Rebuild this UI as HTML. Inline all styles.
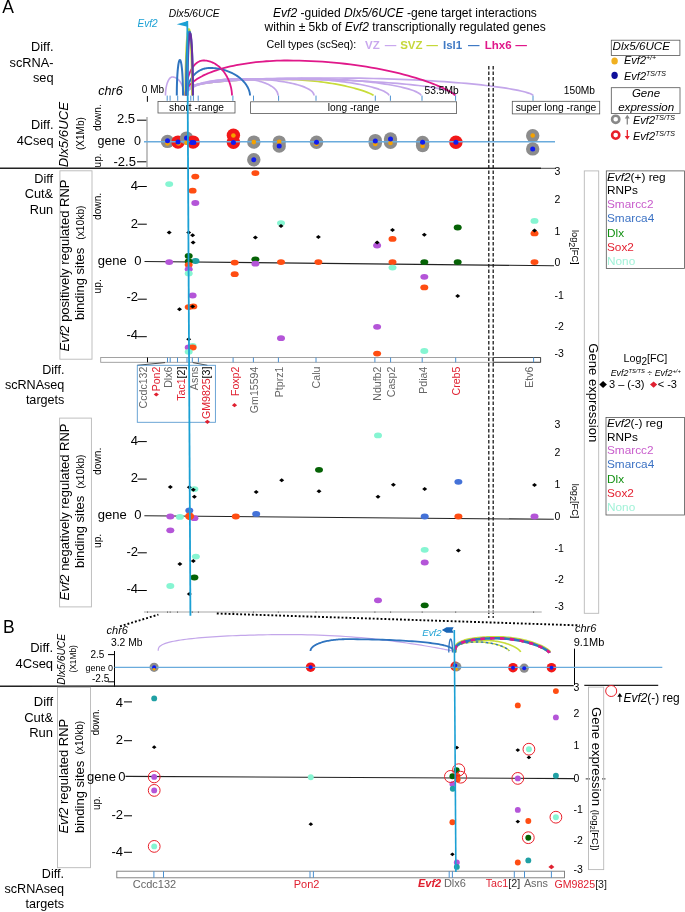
<!DOCTYPE html><html><head><meta charset="utf-8"><style>html,body{margin:0;padding:0;background:#fff;}svg{display:block;will-change:transform;}text{font-family:"Liberation Sans", sans-serif;}</style></head><body>
<svg width="685" height="912" viewBox="0 0 685 912">
<text x="2.2" y="12.8" fill="#000" style="font-size:17.5px;">A</text>
<text x="137.5" y="26.7" fill="#1ba0d4" style="font-size:10.1px;font-style:italic;">Evf2</text>
<text x="168.8" y="16.8" fill="#000" style="font-size:10.3px;font-style:italic;">Dlx5/6UCE</text>
<text x="273" y="16.6" fill="#000" style="font-size:12.05px;"><tspan font-style="italic">Evf2</tspan> -guided <tspan font-style="italic">Dlx5/6UCE</tspan> -gene target interactions</text>
<text x="264.5" y="31.2" fill="#000" style="font-size:12.05px;">within ± 5kb of <tspan font-style="italic">Evf2</tspan> transcriptionally regulated genes</text>
<text x="266.6" y="48.3" fill="#000" style="font-size:10.7px;">Cell types (scSeq):</text>
<text x="365.1" y="48.5" fill="#c9a8ee" style="font-size:11.5px;font-weight:bold;">VZ</text>
<text x="400.2" y="48.5" fill="#c5d83a" style="font-size:11.5px;font-weight:bold;">SVZ</text>
<text x="443" y="48.5" fill="#3f79c4" style="font-size:11.5px;font-weight:bold;">Isl1</text>
<text x="484.7" y="48.5" fill="#e0188a" style="font-size:11.5px;font-weight:bold;">Lhx6</text>
<line x1="384.8" y1="45.6" x2="396.3" y2="45.6" stroke="#c9a8ee" stroke-width="1.2" />
<line x1="426.4" y1="45.6" x2="437.9" y2="45.6" stroke="#c5d83a" stroke-width="1.2" />
<line x1="468" y1="45.6" x2="479.5" y2="45.6" stroke="#3f79c4" stroke-width="1.2" />
<line x1="515.4" y1="45.6" x2="526.9" y2="45.6" stroke="#e0188a" stroke-width="1.2" />
<path d="M186.00 95.50 L186.06 93.03 L186.23 91.85 L186.51 90.93 L186.91 90.13 L187.42 89.42 L188.05 88.78 L188.78 88.18 L189.63 87.63 L190.59 87.11 L191.65 86.62 L192.83 86.15 L194.11 85.71 L195.49 85.29 L196.97 84.89 L198.56 84.51 L200.25 84.15 L202.03 83.80 L203.90 83.47 L205.87 83.15 L207.93 82.85 L210.08 82.56 L212.31 82.29 L214.63 82.03 L217.02 81.78 L219.49 81.55 L222.03 81.32 L224.65 81.11 L227.33 80.91 L230.07 80.73 L232.88 80.55 L235.74 80.39 L238.65 80.24 L241.62 80.10 L244.63 79.97 L247.69 79.85 L250.78 79.75 L253.91 79.65 L257.07 79.57 L260.26 79.50 L263.47 79.44 L266.70 79.39 L269.95 79.35 L273.21 79.32 L276.48 79.31 L279.75 79.30 L283.02 79.32 L286.29 79.36 L289.55 79.44 L292.80 79.55 L296.03 79.69 L299.24 79.86 L302.43 80.06 L305.59 80.29 L308.72 80.55 L311.81 80.83 L314.87 81.15 L317.88 81.48 L320.85 81.84 L323.76 82.23 L326.62 82.63 L329.43 83.06 L332.17 83.50 L334.85 83.96 L337.47 84.43 L340.01 84.92 L342.48 85.43 L344.87 85.94 L347.19 86.46 L349.42 86.98 L351.57 87.51 L353.63 88.04 L355.60 88.58 L357.47 89.11 L359.25 89.64 L360.94 90.16 L362.53 90.67 L364.01 91.17 L365.39 91.66 L366.67 92.13 L367.85 92.59 L368.91 93.03 L369.87 93.44 L370.72 93.83 L371.45 94.19 L372.08 94.52 L372.59 94.81 L372.99 95.06 L373.27 95.27 L373.44 95.42 L373.50 95.50" fill="none" stroke="#c8dc3a" stroke-width="1.7" stroke-linejoin="round" />
<path d="M165.50 95.50 L165.50 94.85 L165.52 94.21 L165.54 93.57 L165.57 92.93 L165.60 92.29 L165.65 91.65 L165.70 91.02 L165.77 90.40 L165.84 89.78 L165.91 89.17 L166.00 88.57 L166.09 87.98 L166.19 87.39 L166.30 86.81 L166.42 86.25 L166.54 85.70 L166.67 85.15 L166.81 84.63 L166.95 84.11 L167.10 83.61 L167.26 83.12 L167.42 82.65 L167.59 82.19 L167.76 81.75 L167.95 81.33 L168.13 80.92 L168.32 80.53 L168.52 80.16 L168.72 79.81 L168.92 79.48 L169.13 79.17 L169.34 78.87 L169.56 78.60 L169.78 78.35 L170.00 78.12 L170.23 77.91 L170.46 77.72 L170.69 77.55 L170.92 77.40 L171.16 77.28 L171.39 77.18 L171.63 77.10 L171.87 77.05 L172.11 77.01 L172.34 77.00 L172.75 77.01 L173.16 77.05 L173.56 77.10 L173.97 77.18 L174.37 77.28 L174.77 77.40 L175.16 77.55 L175.56 77.72 L175.95 77.91 L176.33 78.12 L176.71 78.35 L177.09 78.60 L177.45 78.87 L177.82 79.17 L178.17 79.48 L178.52 79.81 L178.86 80.16 L179.20 80.53 L179.52 80.92 L179.84 81.33 L180.14 81.75 L180.44 82.19 L180.73 82.65 L181.01 83.12 L181.27 83.61 L181.53 84.11 L181.77 84.63 L182.01 85.15 L182.23 85.70 L182.44 86.25 L182.64 86.81 L182.82 87.39 L182.99 87.98 L183.15 88.57 L183.30 89.17 L183.43 89.78 L183.55 90.40 L183.65 91.02 L183.75 91.65 L183.82 92.29 L183.89 92.93 L183.94 93.57 L183.97 94.21 L183.99 94.85 L184.00 95.50" fill="none" stroke="#c3a6ea" stroke-width="1.6" stroke-linejoin="round" />
<path d="M186.00 95.50 L186.03 94.92 L186.13 94.34 L186.29 93.75 L186.52 93.18 L186.81 92.60 L187.17 92.03 L187.59 91.46 L188.07 90.90 L188.61 90.34 L189.22 89.79 L189.89 89.24 L190.61 88.71 L191.40 88.18 L192.25 87.66 L193.15 87.15 L194.11 86.65 L195.12 86.16 L196.19 85.68 L197.31 85.22 L198.48 84.77 L199.71 84.33 L200.98 83.90 L202.29 83.49 L203.66 83.09 L205.06 82.71 L206.51 82.34 L208.00 81.99 L209.52 81.66 L211.08 81.34 L212.68 81.04 L214.31 80.75 L215.97 80.49 L217.66 80.24 L219.37 80.02 L221.11 79.81 L222.87 79.62 L224.65 79.45 L226.45 79.30 L228.27 79.16 L230.09 79.05 L231.93 78.96 L233.78 78.89 L235.64 78.84 L237.50 78.81 L239.36 78.80 L240.71 78.81 L242.06 78.84 L243.40 78.89 L244.74 78.96 L246.07 79.05 L247.39 79.16 L248.71 79.30 L250.01 79.45 L251.30 79.62 L252.58 79.81 L253.83 80.02 L255.08 80.24 L256.30 80.49 L257.50 80.75 L258.68 81.04 L259.84 81.34 L260.97 81.66 L262.07 81.99 L263.15 82.34 L264.20 82.71 L265.22 83.09 L266.20 83.49 L267.16 83.90 L268.08 84.33 L268.96 84.77 L269.81 85.22 L270.62 85.68 L271.39 86.16 L272.13 86.65 L272.82 87.15 L273.48 87.66 L274.09 88.18 L274.66 88.71 L275.19 89.24 L275.67 89.79 L276.11 90.34 L276.50 90.90 L276.85 91.46 L277.16 92.03 L277.41 92.60 L277.62 93.18 L277.79 93.75 L277.91 94.34 L277.98 94.92 L278.00 95.50" fill="none" stroke="#c3a6ea" stroke-width="1.7" stroke-linejoin="round" />
<path d="M186.00 95.50 L186.04 94.36 L186.14 93.52 L186.32 92.76 L186.56 92.05 L186.88 91.38 L187.26 90.75 L187.71 90.13 L188.23 89.54 L188.82 88.97 L189.47 88.42 L190.19 87.89 L190.98 87.37 L191.83 86.87 L192.74 86.38 L193.72 85.91 L194.75 85.45 L195.85 85.01 L197.00 84.58 L198.21 84.17 L199.48 83.77 L200.79 83.39 L202.17 83.02 L203.59 82.67 L205.06 82.33 L206.58 82.01 L208.14 81.70 L209.74 81.40 L211.39 81.13 L213.08 80.86 L214.80 80.62 L216.56 80.38 L218.35 80.17 L220.17 79.97 L222.02 79.78 L223.90 79.61 L225.80 79.46 L227.72 79.32 L229.67 79.20 L231.62 79.09 L233.60 79.00 L235.58 78.93 L237.58 78.87 L239.58 78.83 L241.59 78.81 L243.60 78.80 L246.06 78.81 L248.51 78.84 L250.96 78.89 L253.40 78.96 L255.82 79.05 L258.24 79.16 L260.63 79.30 L263.00 79.45 L265.35 79.62 L267.68 79.81 L269.97 80.02 L272.23 80.24 L274.46 80.49 L276.65 80.75 L278.80 81.04 L280.91 81.34 L282.97 81.66 L284.98 81.99 L286.94 82.34 L288.85 82.71 L290.71 83.09 L292.50 83.49 L294.24 83.90 L295.92 84.33 L297.53 84.77 L299.08 85.22 L300.55 85.68 L301.96 86.16 L303.30 86.65 L304.57 87.15 L305.76 87.66 L306.88 88.18 L307.91 88.71 L308.87 89.24 L309.75 89.79 L310.55 90.34 L311.27 90.90 L311.91 91.46 L312.46 92.03 L312.93 92.60 L313.31 93.18 L313.61 93.75 L313.83 94.34 L313.96 94.92 L314.00 95.50" fill="none" stroke="#c3a6ea" stroke-width="1.7" stroke-linejoin="round" />
<path d="M186.00 95.50 L186.06 92.90 L186.25 91.67 L186.56 90.70 L186.99 89.87 L187.54 89.12 L188.22 88.45 L189.01 87.82 L189.93 87.24 L190.97 86.69 L192.12 86.18 L193.39 85.69 L194.78 85.23 L196.27 84.79 L197.88 84.37 L199.60 83.97 L201.42 83.59 L203.35 83.22 L205.38 82.88 L207.52 82.54 L209.75 82.23 L212.07 81.93 L214.49 81.64 L216.99 81.36 L219.58 81.10 L222.26 80.86 L225.01 80.62 L227.84 80.40 L230.74 80.19 L233.71 80.00 L236.75 79.82 L239.85 79.64 L243.01 79.49 L246.22 79.34 L249.48 79.20 L252.78 79.08 L256.13 78.97 L259.52 78.87 L262.94 78.78 L266.40 78.71 L269.87 78.65 L273.37 78.59 L276.89 78.55 L280.42 78.52 L283.96 78.51 L287.50 78.50 L291.04 78.51 L294.58 78.55 L298.11 78.61 L301.63 78.70 L305.13 78.81 L308.60 78.94 L312.06 79.10 L315.48 79.29 L318.87 79.49 L322.22 79.72 L325.52 79.97 L328.78 80.25 L331.99 80.54 L335.15 80.86 L338.25 81.20 L341.29 81.55 L344.26 81.93 L347.16 82.32 L349.99 82.73 L352.74 83.15 L355.42 83.59 L358.01 84.05 L360.51 84.52 L362.93 85.00 L365.25 85.50 L367.48 86.00 L369.62 86.52 L371.65 87.04 L373.58 87.57 L375.40 88.10 L377.12 88.64 L378.73 89.18 L380.22 89.72 L381.61 90.27 L382.88 90.81 L384.03 91.35 L385.07 91.88 L385.99 92.40 L386.78 92.92 L387.46 93.42 L388.01 93.91 L388.44 94.37 L388.75 94.80 L388.94 95.20 L389.00 95.50" fill="none" stroke="#c3a6ea" stroke-width="1.7" stroke-linejoin="round" />
<path d="M186.00 95.50 L186.07 92.90 L186.29 91.67 L186.64 90.70 L187.14 89.87 L187.79 89.12 L188.57 88.45 L189.49 87.82 L190.55 87.24 L191.75 86.69 L193.09 86.18 L194.56 85.69 L196.16 85.23 L197.89 84.79 L199.75 84.37 L201.74 83.97 L203.85 83.59 L206.09 83.22 L208.44 82.88 L210.91 82.54 L213.49 82.23 L216.18 81.93 L218.98 81.64 L221.88 81.36 L224.88 81.10 L227.97 80.86 L231.16 80.62 L234.44 80.40 L237.79 80.19 L241.23 80.00 L244.75 79.82 L248.34 79.64 L251.99 79.49 L255.71 79.34 L259.48 79.20 L263.31 79.08 L267.19 78.97 L271.11 78.87 L275.07 78.78 L279.07 78.71 L283.10 78.65 L287.15 78.59 L291.22 78.55 L295.30 78.52 L299.40 78.51 L303.50 78.50 L307.60 78.51 L311.70 78.55 L315.78 78.61 L319.85 78.70 L323.90 78.81 L327.93 78.94 L331.93 79.10 L335.89 79.29 L339.81 79.49 L343.69 79.72 L347.52 79.97 L351.29 80.25 L355.01 80.54 L358.66 80.86 L362.25 81.20 L365.77 81.55 L369.21 81.93 L372.56 82.32 L375.84 82.73 L379.03 83.15 L382.12 83.59 L385.12 84.05 L388.02 84.52 L390.82 85.00 L393.51 85.50 L396.09 86.00 L398.56 86.52 L400.91 87.04 L403.15 87.57 L405.26 88.10 L407.25 88.64 L409.11 89.18 L410.84 89.72 L412.44 90.27 L413.91 90.81 L415.25 91.35 L416.45 91.88 L417.51 92.40 L418.43 92.92 L419.21 93.42 L419.86 93.91 L420.36 94.37 L420.71 94.80 L420.93 95.20 L421.00 95.50" fill="none" stroke="#c3a6ea" stroke-width="1.7" stroke-linejoin="round" />
<path d="M186.00 95.50 L186.09 92.23 L186.36 90.88 L186.80 89.84 L187.42 88.97 L188.21 88.21 L189.18 87.52 L190.33 86.89 L191.65 86.31 L193.13 85.77 L194.79 85.27 L196.61 84.79 L198.60 84.34 L200.75 83.91 L203.06 83.51 L205.53 83.13 L208.15 82.76 L210.92 82.41 L213.83 82.08 L216.90 81.77 L220.10 81.47 L223.43 81.18 L226.90 80.91 L230.50 80.66 L234.22 80.41 L238.06 80.18 L242.01 79.97 L246.08 79.76 L250.24 79.57 L254.51 79.38 L258.87 79.21 L263.32 79.06 L267.85 78.91 L272.46 78.77 L277.14 78.65 L281.89 78.54 L286.70 78.43 L291.57 78.34 L296.48 78.26 L301.44 78.19 L306.43 78.13 L311.46 78.09 L316.51 78.05 L321.57 78.02 L326.65 78.01 L331.74 78.00 L338.76 78.01 L345.78 78.05 L352.78 78.12 L359.75 78.21 L366.69 78.33 L373.58 78.48 L380.43 78.65 L387.21 78.85 L393.93 79.07 L400.57 79.32 L407.13 79.59 L413.60 79.88 L419.97 80.20 L426.23 80.54 L432.37 80.90 L438.39 81.28 L444.28 81.68 L450.04 82.10 L455.65 82.54 L461.11 82.99 L466.41 83.46 L471.55 83.94 L476.51 84.44 L481.31 84.95 L485.91 85.47 L490.34 86.00 L494.56 86.54 L498.59 87.09 L502.42 87.64 L506.04 88.19 L509.44 88.75 L512.63 89.31 L515.60 89.87 L518.35 90.42 L520.86 90.97 L523.15 91.52 L525.20 92.05 L527.02 92.57 L528.60 93.08 L529.94 93.57 L531.04 94.04 L531.90 94.48 L532.51 94.89 L532.88 95.24 L533.00 95.50" fill="none" stroke="#c3a6ea" stroke-width="1.7" stroke-linejoin="round" />
<path d="M186.00 95.50 L186.06 92.47 L186.23 91.22 L186.52 90.26 L186.92 89.46 L187.43 88.75 L188.06 88.11 L188.80 87.53 L189.66 86.99 L190.62 86.49 L191.69 86.03 L192.87 85.58 L194.16 85.17 L195.55 84.77 L197.05 84.40 L198.64 84.04 L200.34 83.71 L202.13 83.39 L204.02 83.08 L206.00 82.79 L208.08 82.51 L210.24 82.25 L212.48 82.00 L214.81 81.76 L217.22 81.53 L219.71 81.32 L222.27 81.12 L224.90 80.93 L227.59 80.75 L230.36 80.58 L233.18 80.42 L236.06 80.28 L239.00 80.14 L241.98 80.02 L245.01 79.90 L248.09 79.80 L251.20 79.70 L254.35 79.62 L257.53 79.54 L260.74 79.48 L263.97 79.42 L267.23 79.38 L270.50 79.34 L273.78 79.32 L277.07 79.30 L280.36 79.30 L286.48 79.31 L292.58 79.34 L298.68 79.39 L304.75 79.46 L310.79 79.55 L316.79 79.65 L322.75 79.78 L328.66 79.93 L334.51 80.09 L340.30 80.28 L346.01 80.48 L351.64 80.70 L357.18 80.94 L362.63 81.20 L367.98 81.47 L373.22 81.76 L378.35 82.07 L383.36 82.39 L388.25 82.73 L393.00 83.09 L397.62 83.46 L402.09 83.85 L406.42 84.25 L410.59 84.66 L414.60 85.09 L418.45 85.53 L422.13 85.98 L425.64 86.44 L428.97 86.92 L432.12 87.40 L435.09 87.89 L437.86 88.40 L440.45 88.91 L442.84 89.43 L445.03 89.96 L447.02 90.49 L448.81 91.03 L450.39 91.58 L451.77 92.13 L452.94 92.69 L453.89 93.25 L454.64 93.81 L455.17 94.37 L455.49 94.93 L455.60 95.50" fill="none" stroke="#c3a6ea" stroke-width="1.7" stroke-linejoin="round" />
<path d="M185.00 95.50 L185.06 94.28 L185.25 93.06 L185.56 91.84 L186.00 90.63 L186.56 89.42 L187.24 88.22 L188.05 87.03 L188.97 85.85 L190.02 84.68 L191.19 83.53 L192.47 82.39 L193.87 81.26 L195.38 80.16 L197.01 79.07 L198.75 78.00 L200.59 76.95 L202.54 75.93 L204.59 74.93 L206.75 73.95 L209.00 73.00 L211.35 72.08 L213.80 71.19 L216.33 70.32 L218.95 69.49 L221.65 68.69 L224.43 67.92 L227.29 67.18 L230.23 66.48 L233.23 65.82 L236.30 65.19 L239.43 64.60 L242.62 64.04 L245.87 63.53 L249.17 63.05 L252.51 62.61 L255.89 62.21 L259.32 61.86 L262.78 61.54 L266.27 61.26 L269.78 61.03 L273.32 60.84 L276.88 60.69 L280.44 60.59 L284.02 60.52 L287.60 60.50 L293.44 60.53 L299.28 60.63 L305.10 60.80 L310.90 61.03 L316.67 61.33 L322.40 61.69 L328.10 62.11 L333.74 62.59 L339.33 63.14 L344.85 63.74 L350.31 64.39 L355.69 65.10 L360.98 65.87 L366.19 66.68 L371.30 67.53 L376.31 68.44 L381.21 69.38 L386.00 70.35 L390.66 71.36 L395.20 72.41 L399.61 73.47 L403.89 74.56 L408.02 75.67 L412.00 76.80 L415.84 77.93 L419.51 79.08 L423.03 80.22 L426.38 81.37 L429.56 82.50 L432.57 83.63 L435.41 84.74 L438.06 85.83 L440.53 86.90 L442.81 87.93 L444.90 88.94 L446.81 89.90 L448.52 90.81 L450.03 91.68 L451.34 92.48 L452.46 93.22 L453.37 93.89 L454.08 94.47 L454.59 94.95 L454.90 95.31 L455.00 95.50" fill="none" stroke="#e0188a" stroke-width="1.8" stroke-linejoin="round" />
<path d="M187.00 95.50 L187.01 94.16 L187.06 93.00 L187.12 91.90 L187.22 90.84 L187.34 89.81 L187.50 88.81 L187.67 87.83 L187.88 86.88 L188.11 85.94 L188.37 85.03 L188.65 84.14 L188.96 83.26 L189.30 82.41 L189.65 81.58 L190.04 80.76 L190.45 79.97 L190.88 79.20 L191.33 78.45 L191.81 77.73 L192.31 77.02 L192.83 76.34 L193.37 75.69 L193.93 75.06 L194.50 74.45 L195.10 73.86 L195.72 73.31 L196.35 72.78 L197.00 72.27 L197.66 71.79 L198.34 71.34 L199.03 70.91 L199.74 70.52 L200.46 70.15 L201.18 69.81 L201.92 69.50 L202.67 69.21 L203.43 68.96 L204.19 68.74 L204.96 68.54 L205.74 68.38 L206.52 68.24 L207.31 68.14 L208.10 68.06 L208.89 68.02 L209.68 68.00 L211.09 68.02 L212.49 68.07 L213.89 68.17 L215.29 68.29 L216.68 68.46 L218.06 68.66 L219.43 68.90 L220.79 69.17 L222.14 69.48 L223.47 69.82 L224.78 70.19 L226.08 70.60 L227.36 71.05 L228.61 71.52 L229.84 72.02 L231.05 72.56 L232.23 73.12 L233.38 73.72 L234.50 74.34 L235.60 74.99 L236.66 75.66 L237.69 76.36 L238.68 77.08 L239.64 77.82 L240.57 78.59 L241.45 79.37 L242.30 80.17 L243.11 80.99 L243.87 81.82 L244.60 82.67 L245.28 83.53 L245.92 84.40 L246.51 85.28 L247.06 86.16 L247.57 87.05 L248.03 87.94 L248.44 88.84 L248.80 89.73 L249.12 90.61 L249.39 91.49 L249.61 92.36 L249.78 93.21 L249.90 94.03 L249.98 94.81 L250.00 95.50" fill="none" stroke="#2f74bf" stroke-width="1.9" stroke-linejoin="round" />
<path d="M186.00 95.50 L186.01 93.79 L186.04 92.31 L186.10 90.91 L186.17 89.57 L186.27 88.26 L186.38 86.99 L186.52 85.74 L186.68 84.53 L186.86 83.34 L187.05 82.17 L187.27 81.04 L187.51 79.92 L187.77 78.84 L188.05 77.78 L188.34 76.74 L188.66 75.74 L188.99 74.76 L189.34 73.80 L189.71 72.88 L190.09 71.99 L190.49 71.12 L190.91 70.28 L191.34 69.48 L191.78 68.71 L192.24 67.96 L192.72 67.25 L193.21 66.58 L193.71 65.93 L194.22 65.33 L194.74 64.75 L195.27 64.21 L195.82 63.70 L196.37 63.24 L196.93 62.80 L197.50 62.41 L198.08 62.05 L198.66 61.72 L199.25 61.44 L199.85 61.19 L200.44 60.98 L201.05 60.81 L201.65 60.67 L202.26 60.58 L202.87 60.52 L203.48 60.50 L204.48 60.52 L205.47 60.59 L206.46 60.71 L207.45 60.87 L208.43 61.08 L209.41 61.34 L210.38 61.64 L211.34 61.99 L212.29 62.38 L213.23 62.81 L214.16 63.29 L215.08 63.81 L215.98 64.38 L216.87 64.98 L217.74 65.62 L218.59 66.30 L219.43 67.02 L220.24 67.78 L221.04 68.57 L221.81 69.39 L222.56 70.25 L223.29 71.14 L224.00 72.06 L224.67 73.00 L225.33 73.98 L225.95 74.97 L226.55 75.99 L227.12 77.03 L227.67 78.09 L228.18 79.17 L228.66 80.27 L229.11 81.37 L229.53 82.49 L229.92 83.61 L230.28 84.75 L230.60 85.88 L230.90 87.02 L231.15 88.15 L231.38 89.28 L231.57 90.40 L231.72 91.50 L231.84 92.58 L231.93 93.63 L231.98 94.63 L232.00 95.50" fill="none" stroke="#e0188a" stroke-width="1.8" stroke-linejoin="round" />
<path d="M176.80 95.50 L176.80 94.26 L176.81 93.02 L176.82 91.79 L176.83 90.56 L176.85 89.34 L176.87 88.12 L176.89 86.91 L176.92 85.71 L176.95 84.53 L176.99 83.36 L177.03 82.20 L177.07 81.06 L177.11 79.94 L177.16 78.83 L177.22 77.75 L177.27 76.69 L177.33 75.65 L177.39 74.63 L177.46 73.64 L177.53 72.68 L177.60 71.75 L177.67 70.84 L177.75 69.96 L177.83 69.12 L177.91 68.31 L177.99 67.53 L178.08 66.78 L178.17 66.07 L178.26 65.39 L178.35 64.76 L178.44 64.16 L178.54 63.59 L178.64 63.07 L178.74 62.58 L178.84 62.14 L178.94 61.74 L179.05 61.38 L179.15 61.05 L179.26 60.78 L179.36 60.54 L179.47 60.35 L179.58 60.19 L179.68 60.09 L179.79 60.02 L179.90 60.00 L180.01 60.02 L180.12 60.09 L180.22 60.19 L180.33 60.35 L180.44 60.54 L180.54 60.78 L180.65 61.05 L180.75 61.38 L180.86 61.74 L180.96 62.14 L181.06 62.58 L181.16 63.07 L181.26 63.59 L181.36 64.16 L181.45 64.76 L181.54 65.39 L181.63 66.07 L181.72 66.78 L181.81 67.53 L181.89 68.31 L181.97 69.12 L182.05 69.96 L182.13 70.84 L182.20 71.75 L182.27 72.68 L182.34 73.64 L182.41 74.63 L182.47 75.65 L182.53 76.69 L182.58 77.75 L182.64 78.83 L182.69 79.94 L182.73 81.06 L182.77 82.20 L182.81 83.36 L182.85 84.53 L182.88 85.71 L182.91 86.91 L182.93 88.12 L182.95 89.34 L182.97 90.56 L182.98 91.79 L182.99 93.02 L183.00 94.26 L183.00 95.50" fill="none" stroke="#2f74bf" stroke-width="2" stroke-linejoin="round" />
<path d="M185.50 95.50 L185.50 93.19 L185.51 90.88 L185.52 88.58 L185.53 86.29 L185.55 84.00 L185.57 81.74 L185.60 79.48 L185.63 77.25 L185.66 75.04 L185.70 72.86 L185.74 70.70 L185.79 68.57 L185.84 66.48 L185.89 64.42 L185.95 62.40 L186.01 60.42 L186.07 58.48 L186.14 56.59 L186.21 54.74 L186.28 52.95 L186.36 51.20 L186.44 49.51 L186.52 47.88 L186.61 46.30 L186.70 44.79 L186.79 43.33 L186.88 41.94 L186.98 40.62 L187.07 39.36 L187.17 38.17 L187.28 37.05 L187.38 36.00 L187.49 35.02 L187.60 34.12 L187.70 33.29 L187.81 32.54 L187.93 31.86 L188.04 31.27 L188.15 30.75 L188.27 30.31 L188.38 29.94 L188.50 29.66 L188.62 29.46 L188.73 29.34 L188.85 29.30 L188.97 29.34 L189.08 29.46 L189.20 29.66 L189.32 29.94 L189.43 30.31 L189.55 30.75 L189.66 31.27 L189.77 31.86 L189.89 32.54 L190.00 33.29 L190.10 34.12 L190.21 35.02 L190.32 36.00 L190.42 37.05 L190.52 38.17 L190.63 39.36 L190.72 40.62 L190.82 41.94 L190.91 43.33 L191.00 44.79 L191.09 46.30 L191.18 47.88 L191.26 49.51 L191.34 51.20 L191.42 52.95 L191.49 54.74 L191.56 56.59 L191.63 58.48 L191.69 60.42 L191.75 62.40 L191.81 64.42 L191.86 66.48 L191.91 68.57 L191.96 70.70 L192.00 72.86 L192.04 75.04 L192.07 77.25 L192.10 79.48 L192.13 81.74 L192.15 84.00 L192.17 86.29 L192.18 88.58 L192.19 90.88 L192.20 93.19 L192.20 95.50" fill="none" stroke="#c8dc3a" stroke-width="2.2" stroke-linejoin="round" />
<path d="M186.00 95.50 L186.00 93.27 L186.01 91.04 L186.02 88.82 L186.03 86.61 L186.05 84.40 L186.08 82.21 L186.10 80.04 L186.14 77.89 L186.17 75.75 L186.21 73.64 L186.25 71.56 L186.30 69.51 L186.35 67.49 L186.41 65.50 L186.47 63.55 L186.53 61.64 L186.60 59.77 L186.67 57.94 L186.74 56.16 L186.82 54.43 L186.90 52.74 L186.98 51.11 L187.07 49.53 L187.16 48.01 L187.25 46.55 L187.35 45.15 L187.44 43.80 L187.54 42.52 L187.65 41.31 L187.75 40.16 L187.86 39.08 L187.97 38.07 L188.08 37.12 L188.19 36.25 L188.30 35.45 L188.42 34.73 L188.54 34.08 L188.65 33.50 L188.77 33.00 L188.89 32.57 L189.01 32.22 L189.13 31.95 L189.26 31.76 L189.38 31.64 L189.50 31.60 L189.62 31.64 L189.74 31.76 L189.87 31.95 L189.99 32.22 L190.11 32.57 L190.23 33.00 L190.35 33.50 L190.46 34.08 L190.58 34.73 L190.70 35.45 L190.81 36.25 L190.92 37.12 L191.03 38.07 L191.14 39.08 L191.25 40.16 L191.35 41.31 L191.46 42.52 L191.56 43.80 L191.65 45.15 L191.75 46.55 L191.84 48.01 L191.93 49.53 L192.02 51.11 L192.10 52.74 L192.18 54.43 L192.26 56.16 L192.33 57.94 L192.40 59.77 L192.47 61.64 L192.53 63.55 L192.59 65.50 L192.65 67.49 L192.70 69.51 L192.75 71.56 L192.79 73.64 L192.83 75.75 L192.86 77.89 L192.90 80.04 L192.92 82.21 L192.95 84.40 L192.97 86.61 L192.98 88.82 L192.99 91.04 L193.00 93.27 L193.00 95.50" fill="none" stroke="#2f74bf" stroke-width="2" stroke-linejoin="round" />
<path d="M187.50 95.50 L187.50 93.33 L187.51 91.17 L187.51 89.01 L187.53 86.86 L187.54 84.72 L187.56 82.59 L187.58 80.48 L187.60 78.38 L187.63 76.31 L187.66 74.26 L187.69 72.24 L187.73 70.24 L187.77 68.28 L187.81 66.35 L187.86 64.45 L187.90 62.59 L187.95 60.77 L188.01 59.00 L188.06 57.27 L188.12 55.58 L188.18 53.95 L188.24 52.36 L188.31 50.83 L188.38 49.35 L188.45 47.93 L188.52 46.56 L188.59 45.26 L188.67 44.02 L188.75 42.84 L188.82 41.72 L188.91 40.67 L188.99 39.68 L189.07 38.77 L189.16 37.92 L189.24 37.15 L189.33 36.44 L189.42 35.81 L189.51 35.24 L189.60 34.76 L189.69 34.34 L189.78 34.00 L189.87 33.74 L189.97 33.55 L190.06 33.44 L190.15 33.40 L190.24 33.44 L190.33 33.55 L190.43 33.74 L190.52 34.00 L190.61 34.34 L190.70 34.76 L190.79 35.24 L190.88 35.81 L190.97 36.44 L191.06 37.15 L191.14 37.92 L191.23 38.77 L191.31 39.68 L191.39 40.67 L191.47 41.72 L191.55 42.84 L191.63 44.02 L191.71 45.26 L191.78 46.56 L191.85 47.93 L191.92 49.35 L191.99 50.83 L192.06 52.36 L192.12 53.95 L192.18 55.58 L192.24 57.27 L192.29 59.00 L192.35 60.77 L192.40 62.59 L192.44 64.45 L192.49 66.35 L192.53 68.28 L192.57 70.24 L192.61 72.24 L192.64 74.26 L192.67 76.31 L192.70 78.38 L192.72 80.48 L192.74 82.59 L192.76 84.72 L192.77 86.86 L192.79 89.01 L192.79 91.17 L192.80 93.33 L192.80 95.50" fill="none" stroke="#6a2fa0" stroke-width="2" stroke-linejoin="round" />
<text x="53.5" y="51" fill="#000" style="font-size:12.75px;" text-anchor="end">Diff.</text>
<text x="53.5" y="66.8" fill="#000" style="font-size:12.75px;" text-anchor="end">scRNA-</text>
<text x="53.5" y="81.7" fill="#000" style="font-size:12.75px;" text-anchor="end">seq</text>
<text x="98.2" y="95.2" fill="#000" style="font-size:12.6px;font-style:italic;">chr6</text>
<text x="141.8" y="93" fill="#000" style="font-size:10px;">0 Mb</text>
<text x="424.6" y="93.8" fill="#000" style="font-size:10.2px;">53.5Mb</text>
<text x="563.8" y="94.4" fill="#000" style="font-size:10.2px;">150Mb</text>
<line x1="147.4" y1="96" x2="147.4" y2="101.8" stroke="#000" stroke-width="1" />
<line x1="167.2" y1="95.6" x2="167.2" y2="100.8" stroke="#4a90d0" stroke-width="1" />
<line x1="170.1" y1="95.6" x2="170.1" y2="100.8" stroke="#4a90d0" stroke-width="1" />
<line x1="177.7" y1="95.6" x2="177.7" y2="100.8" stroke="#4a90d0" stroke-width="1" />
<line x1="190.8" y1="95.6" x2="190.8" y2="100.8" stroke="#4a90d0" stroke-width="1" />
<line x1="193.4" y1="95.6" x2="193.4" y2="100.8" stroke="#4a90d0" stroke-width="1" />
<line x1="198.2" y1="95.6" x2="198.2" y2="100.8" stroke="#4a90d0" stroke-width="1" />
<line x1="232.9" y1="95.6" x2="232.9" y2="100.8" stroke="#4a90d0" stroke-width="1" />
<line x1="253.5" y1="95.6" x2="253.5" y2="100.8" stroke="#4a90d0" stroke-width="1" />
<line x1="278.6" y1="95.6" x2="278.6" y2="100.8" stroke="#4a90d0" stroke-width="1" />
<line x1="316" y1="95.6" x2="316" y2="100.8" stroke="#4a90d0" stroke-width="1" />
<line x1="375.3" y1="95.6" x2="375.3" y2="100.8" stroke="#4a90d0" stroke-width="1" />
<line x1="390.4" y1="95.6" x2="390.4" y2="100.8" stroke="#4a90d0" stroke-width="1" />
<line x1="422" y1="95.6" x2="422" y2="100.8" stroke="#4a90d0" stroke-width="1" />
<line x1="455.6" y1="95.6" x2="455.6" y2="100.8" stroke="#4a90d0" stroke-width="1" />
<line x1="533" y1="95.6" x2="533" y2="100.8" stroke="#4a90d0" stroke-width="1" />
<rect x="158" y="101.5" width="77" height="11.5" stroke="#555" stroke-width="0.8" fill="#fff"/>
<text x="196.5" y="110.8" fill="#000" style="font-size:10.2px;" text-anchor="middle">short -range</text>
<rect x="250.6" y="101.8" width="206" height="11.6" stroke="#555" stroke-width="0.8" fill="#fff"/>
<text x="353.6" y="111" fill="#000" style="font-size:10.2px;" text-anchor="middle">long -range</text>
<rect x="512.3" y="101.3" width="87.4" height="12.6" stroke="#555" stroke-width="0.8" fill="#fff"/>
<text x="556" y="111" fill="#000" style="font-size:10.3px;" text-anchor="middle">super long -range</text>
<line x1="488.8" y1="66.1" x2="488.8" y2="618" stroke="#1a1a1a" stroke-width="1.3" stroke-dasharray="3.3 2.2"/>
<line x1="493.2" y1="66.1" x2="493.2" y2="618" stroke="#1a1a1a" stroke-width="1.3" stroke-dasharray="3.3 2.2"/>
<text x="53.5" y="129.3" fill="#000" style="font-size:12.75px;" text-anchor="end">Diff.</text>
<text x="53.5" y="144.7" fill="#000" style="font-size:12.75px;" text-anchor="end">4Cseq</text>
<text transform="translate(67.6 167.2) rotate(-90)" fill="#000" style="font-size:13.2px;font-style:italic;">Dlx5/6UCE</text>
<text transform="translate(83.5 150) rotate(-90)" fill="#000" style="font-size:10px;">(X1Mb)</text>
<text transform="translate(101 131) rotate(-90)" fill="#000" style="font-size:10px;">down.</text>
<text transform="translate(101 167.4) rotate(-90)" fill="#000" style="font-size:10px;">up.</text>
<text x="97.5" y="145" fill="#000" style="font-size:12.5px;">gene</text>
<text x="134" y="145" fill="#000" style="font-size:12.5px;">0</text>
<text x="117" y="122.8" fill="#000" style="font-size:13px;">2.5</text>
<text x="113.5" y="166.2" fill="#000" style="font-size:13px;">-2.5</text>
<line x1="137" y1="120.2" x2="146.7" y2="120.2" stroke="#000" stroke-width="1" />
<line x1="137" y1="161.8" x2="146.7" y2="161.8" stroke="#000" stroke-width="1" />
<line x1="147" y1="117" x2="147" y2="167" stroke="#999" stroke-width="1.2" />
<line x1="0" y1="168.2" x2="541" y2="168.2" stroke="#222" stroke-width="1.4" />
<line x1="541" y1="168.3" x2="556" y2="168.3" stroke="#333" stroke-width="0.9" />
<circle cx="167.5" cy="141.4" r="6.7" fill="#8c8c8c"/>
<circle cx="178" cy="142.1" r="6.7" fill="#f21818"/>
<circle cx="186.5" cy="138.1" r="6.7" fill="#8c8c8c"/>
<circle cx="193.1" cy="142.1" r="6.7" fill="#f21818"/>
<circle cx="233.4" cy="135.2" r="6.7" fill="#f21818"/>
<circle cx="233.4" cy="142.3" r="6.7" fill="#f21818"/>
<circle cx="253.8" cy="142.1" r="6.7" fill="#8c8c8c"/>
<circle cx="253.8" cy="159.8" r="6.7" fill="#8c8c8c"/>
<circle cx="279.2" cy="142.1" r="6.7" fill="#8c8c8c"/>
<circle cx="279.2" cy="146" r="6.7" fill="#8c8c8c"/>
<circle cx="316.5" cy="142.3" r="6.7" fill="#8c8c8c"/>
<circle cx="375.3" cy="140.6" r="6.7" fill="#8c8c8c"/>
<circle cx="375.3" cy="143.2" r="6.7" fill="#8c8c8c"/>
<circle cx="390.5" cy="139" r="6.7" fill="#8c8c8c"/>
<circle cx="390.5" cy="142.2" r="6.7" fill="#8c8c8c"/>
<circle cx="422.6" cy="142.4" r="6.7" fill="#8c8c8c"/>
<circle cx="422.6" cy="145.6" r="6.7" fill="#8c8c8c"/>
<circle cx="455.9" cy="142.2" r="6.7" fill="#f21818"/>
<circle cx="532.7" cy="135.7" r="6.7" fill="#8c8c8c"/>
<circle cx="532.7" cy="148.9" r="6.7" fill="#8c8c8c"/>
<line x1="144" y1="141.8" x2="555" y2="141.8" stroke="#6aabdc" stroke-width="1.4" />
<circle cx="167.5" cy="143.4" r="2.3" fill="#f5a200"/>
<circle cx="178.5" cy="143.5" r="2.3" fill="#f5a200"/>
<circle cx="186.5" cy="142.7" r="2.3" fill="#f5a200"/>
<circle cx="233.4" cy="135.5" r="2.3" fill="#f5a200"/>
<circle cx="253.8" cy="142.1" r="2.3" fill="#f5a200"/>
<circle cx="279.2" cy="141.8" r="2.3" fill="#f5a200"/>
<circle cx="316.5" cy="144" r="2.3" fill="#f5a200"/>
<circle cx="375.3" cy="144" r="2.3" fill="#f5a200"/>
<circle cx="390.5" cy="143" r="2.3" fill="#f5a200"/>
<circle cx="422.6" cy="145.9" r="2.3" fill="#f5a200"/>
<circle cx="532.7" cy="135.5" r="2.3" fill="#f5a200"/>
<circle cx="167.5" cy="140.8" r="2.5" fill="#0f1cf0"/>
<circle cx="178" cy="142.1" r="2.5" fill="#0f1cf0"/>
<circle cx="186.5" cy="138.1" r="2.5" fill="#0f1cf0"/>
<circle cx="191.8" cy="142.5" r="2.5" fill="#0f1cf0"/>
<circle cx="193.8" cy="142.5" r="2.5" fill="#0f1cf0"/>
<circle cx="233.4" cy="142.5" r="2.5" fill="#0f1cf0"/>
<circle cx="253.8" cy="159.8" r="2.5" fill="#0f1cf0"/>
<circle cx="279.2" cy="146" r="2.5" fill="#0f1cf0"/>
<circle cx="316.5" cy="142.3" r="2.5" fill="#0f1cf0"/>
<circle cx="375.3" cy="141.1" r="2.5" fill="#0f1cf0"/>
<circle cx="390.5" cy="139.1" r="2.5" fill="#0f1cf0"/>
<circle cx="422.6" cy="142.2" r="2.5" fill="#0f1cf0"/>
<circle cx="455.9" cy="142.2" r="2.5" fill="#0f1cf0"/>
<circle cx="532.7" cy="148.9" r="2.5" fill="#0f1cf0"/>
<path d="M176.7 24.2 L188 21 L187.5 26.8 Z" fill="#1ba0d4"/>
<rect x="611.3" y="40.2" width="68.6" height="15.3" stroke="#555" stroke-width="0.8" fill="none"/>
<text x="612.6" y="49.8" fill="#000" style="font-size:11.6px;font-style:italic;">Dlx5/6UCE</text>
<ellipse cx="614.6" cy="61" rx="3.2" ry="3.6" fill="#f0b020"/>
<text x="624" y="63.6" fill="#000" style="font-size:11px;font-style:italic;">Evf2<tspan font-size="7" dy="-4">+/+</tspan></text>
<ellipse cx="614.6" cy="75.3" rx="3.2" ry="3.6" fill="#10109a"/>
<text x="624" y="80.4" fill="#000" style="font-size:11px;font-style:italic;">Evf2<tspan font-size="7" dy="-4">TS/TS</tspan></text>
<rect x="611.3" y="87.7" width="68.7" height="25.8" stroke="#555" stroke-width="0.8" fill="none"/>
<text x="646" y="97.3" fill="#000" style="font-size:11.5px;font-style:italic;" text-anchor="middle">Gene</text>
<text x="646.2" y="110.6" fill="#000" style="font-size:11.6px;font-style:italic;" text-anchor="middle">expression</text>
<circle cx="615.7" cy="119.3" r="3.6" fill="none" stroke="#888" stroke-width="2.6"/>
<line x1="627.3" y1="117" x2="627.3" y2="124.5" stroke="#888" stroke-width="1.3" />
<path d="M624.8 118.5L627.3 114.8L629.8 118.5Z" fill="#888"/>
<text x="633" y="123.5" fill="#000" style="font-size:11px;font-style:italic;">Evf2<tspan font-size="7" dy="-4">TS/TS</tspan></text>
<circle cx="615.7" cy="135.1" r="3.6" fill="none" stroke="#e8202a" stroke-width="2.6"/>
<line x1="627.3" y1="130" x2="627.3" y2="137.5" stroke="#e8202a" stroke-width="1.3" />
<path d="M624.8 136L627.3 139.7L629.8 136Z" fill="#e8202a"/>
<text x="633" y="139.5" fill="#000" style="font-size:11px;font-style:italic;">Evf2<tspan font-size="7" dy="-4">TS/TS</tspan></text>
<text x="53.1" y="182.6" fill="#000" style="font-size:12.75px;" text-anchor="end">Diff</text>
<text x="53.1" y="198.2" fill="#000" style="font-size:12.75px;" text-anchor="end">Cut&amp;</text>
<text x="53.1" y="213.6" fill="#000" style="font-size:12.75px;" text-anchor="end">Run</text>
<rect x="59.9" y="170.8" width="32.1" height="188.4" stroke="#b8b8b8" stroke-width="0.9" fill="none"/>
<text transform="translate(69.2 351.5) rotate(-90)" fill="#000" style="font-size:13px;"><tspan font-style="italic">Evf2</tspan> positively regulated RNP</text>
<text transform="translate(84.2 320) rotate(-90)" fill="#000" style="font-size:13px;">binding sites</text>
<text transform="translate(84 239.8) rotate(-90)" fill="#000" style="font-size:10.3px;">(x10kb)</text>
<text transform="translate(100.7 220) rotate(-90)" fill="#000" style="font-size:10.2px;">down.</text>
<text transform="translate(100.5 293.4) rotate(-90)" fill="#000" style="font-size:10.2px;">up.</text>
<text x="138" y="190.3" fill="#000" style="font-size:13px;" text-anchor="end">4</text>
<line x1="137.5" y1="186.5" x2="146.8" y2="186.5" stroke="#000" stroke-width="1" />
<text x="138" y="228.3" fill="#000" style="font-size:13px;" text-anchor="end">2</text>
<line x1="137.5" y1="224.20000000000002" x2="146.8" y2="224.20000000000002" stroke="#000" stroke-width="1" />
<text x="138" y="301.3" fill="#000" style="font-size:13px;" text-anchor="end">-2</text>
<line x1="137.5" y1="299.2" x2="146.8" y2="299.2" stroke="#000" stroke-width="1" />
<text x="138" y="339.2" fill="#000" style="font-size:13px;" text-anchor="end">-4</text>
<line x1="137.5" y1="336.7" x2="146.8" y2="336.7" stroke="#000" stroke-width="1" />
<text x="97.8" y="265" fill="#000" style="font-size:13px;">gene</text>
<text x="134.3" y="265" fill="#000" style="font-size:13px;">0</text>
<line x1="144.5" y1="261.5" x2="554" y2="265.8" stroke="#222" stroke-width="1.1" />
<rect x="100.7" y="357.5" width="439.9" height="4.8" stroke="#999" stroke-width="0.9" fill="none"/>
<path d="M493.2 357.5H540.6V362.3H493.2Z" fill="none" stroke="#444" stroke-width="0.9"/>
<line x1="147.5" y1="357.5" x2="147.5" y2="362.3" stroke="#000" stroke-width="1" />
<line x1="167.5" y1="357.5" x2="167.5" y2="362.3" stroke="#4a90d0" stroke-width="1" />
<line x1="170.2" y1="357.5" x2="170.2" y2="362.3" stroke="#4a90d0" stroke-width="1" />
<line x1="177.5" y1="357.5" x2="177.5" y2="362.3" stroke="#4a90d0" stroke-width="1" />
<line x1="187" y1="357.5" x2="187" y2="362.3" stroke="#4a90d0" stroke-width="1" />
<line x1="192.3" y1="357.5" x2="192.3" y2="362.3" stroke="#4a90d0" stroke-width="1" />
<line x1="198.4" y1="357.5" x2="198.4" y2="362.3" stroke="#4a90d0" stroke-width="1" />
<line x1="233.1" y1="357.5" x2="233.1" y2="362.3" stroke="#4a90d0" stroke-width="1" />
<line x1="253.4" y1="357.5" x2="253.4" y2="362.3" stroke="#4a90d0" stroke-width="1" />
<line x1="278.4" y1="357.5" x2="278.4" y2="362.3" stroke="#4a90d0" stroke-width="1" />
<line x1="316" y1="357.5" x2="316" y2="362.3" stroke="#4a90d0" stroke-width="1" />
<line x1="374.9" y1="357.5" x2="374.9" y2="362.3" stroke="#4a90d0" stroke-width="1" />
<line x1="390.6" y1="357.5" x2="390.6" y2="362.3" stroke="#4a90d0" stroke-width="1" />
<line x1="422.2" y1="357.5" x2="422.2" y2="362.3" stroke="#4a90d0" stroke-width="1" />
<line x1="455.7" y1="357.5" x2="455.7" y2="362.3" stroke="#4a90d0" stroke-width="1" />
<line x1="533.6" y1="357.5" x2="533.6" y2="362.3" stroke="#4a90d0" stroke-width="1" />
<text x="554.5" y="174.9" fill="#000" style="font-size:10.5px;">3</text>
<text x="554.5" y="202.7" fill="#000" style="font-size:10.5px;">2</text>
<text x="554.5" y="234.7" fill="#000" style="font-size:10.5px;">1</text>
<text x="554.5" y="266.3" fill="#000" style="font-size:10.5px;">0</text>
<text x="554.5" y="298.8" fill="#000" style="font-size:10.5px;">-1</text>
<text x="554.5" y="329.9" fill="#000" style="font-size:10.5px;">-2</text>
<text x="554.5" y="356.9" fill="#000" style="font-size:10.5px;">-3</text>
<text transform="translate(571.5 230) rotate(90)" fill="#000" style="font-size:9.2px;">log<tspan font-size="9" dy="2.5">2</tspan><tspan dy="-2.5">[FC]</tspan></text>
<ellipse cx="195.3" cy="176.6" rx="4" ry="2.9" fill="#ff4d12"/>
<ellipse cx="255.4" cy="173.1" rx="4" ry="2.9" fill="#ff4d12"/>
<ellipse cx="169.2" cy="184.1" rx="4" ry="2.9" fill="#86f5d2"/>
<ellipse cx="192.6" cy="190.7" rx="4" ry="2.9" fill="#ff4d12"/>
<ellipse cx="195.3" cy="203" rx="4" ry="2.9" fill="#b455d8"/>
<ellipse cx="281" cy="223.1" rx="4" ry="2.9" fill="#86f5d2"/>
<ellipse cx="255.4" cy="259.3" rx="4" ry="2.9" fill="#056205"/>
<ellipse cx="188.7" cy="256" rx="4" ry="2.9" fill="#056205"/>
<ellipse cx="169.2" cy="262.1" rx="4" ry="2.9" fill="#b455d8"/>
<ellipse cx="195.5" cy="261" rx="4" ry="2.9" fill="#20a0a4"/>
<ellipse cx="188.7" cy="261.5" rx="4" ry="2.9" fill="#056205"/>
<ellipse cx="188.7" cy="264.8" rx="4" ry="2.9" fill="#ff4d12"/>
<ellipse cx="188.7" cy="269.2" rx="4" ry="2.9" fill="#b455d8"/>
<ellipse cx="188.7" cy="273.5" rx="4" ry="2.9" fill="#86f5d2"/>
<ellipse cx="234.7" cy="262.6" rx="4" ry="2.9" fill="#ff4d12"/>
<ellipse cx="234.7" cy="274.2" rx="4" ry="2.9" fill="#ff4d12"/>
<ellipse cx="255.4" cy="263.7" rx="4" ry="2.9" fill="#b455d8"/>
<ellipse cx="281" cy="262.1" rx="4" ry="2.9" fill="#ff4d12"/>
<ellipse cx="192.6" cy="295.5" rx="4" ry="2.9" fill="#b455d8"/>
<ellipse cx="188.7" cy="307.1" rx="4" ry="2.9" fill="#ff4d12"/>
<ellipse cx="193.3" cy="306.4" rx="4" ry="2.9" fill="#ff4d12"/>
<ellipse cx="281" cy="338.2" rx="4" ry="2.9" fill="#b455d8"/>
<ellipse cx="192.6" cy="345.9" rx="4" ry="2.9" fill="#86f5d2"/>
<ellipse cx="188.7" cy="347.5" rx="4" ry="2.9" fill="#b455d8"/>
<ellipse cx="192.6" cy="347.5" rx="4" ry="2.9" fill="#ff4d12"/>
<ellipse cx="188.7" cy="351.8" rx="4" ry="2.9" fill="#86f5d2"/>
<ellipse cx="318.4" cy="262.1" rx="4" ry="2.9" fill="#ff4d12"/>
<ellipse cx="377.1" cy="245.5" rx="4" ry="2.9" fill="#b455d8"/>
<ellipse cx="377.1" cy="326.8" rx="4" ry="2.9" fill="#b455d8"/>
<ellipse cx="377.1" cy="353.6" rx="4" ry="2.9" fill="#ff4d12"/>
<ellipse cx="392.5" cy="238.9" rx="4" ry="2.9" fill="#ff4d12"/>
<ellipse cx="392.5" cy="262.1" rx="4" ry="2.9" fill="#ff4d12"/>
<ellipse cx="392.5" cy="267.6" rx="4" ry="2.9" fill="#86f5d2"/>
<ellipse cx="424.3" cy="262.1" rx="4" ry="2.9" fill="#056205"/>
<ellipse cx="424.3" cy="276.8" rx="4" ry="2.9" fill="#b455d8"/>
<ellipse cx="424.3" cy="287.4" rx="4" ry="2.9" fill="#ff4d12"/>
<ellipse cx="424.3" cy="351" rx="4" ry="2.9" fill="#86f5d2"/>
<ellipse cx="457.7" cy="227.5" rx="4" ry="2.9" fill="#056205"/>
<ellipse cx="457.7" cy="262.1" rx="4" ry="2.9" fill="#056205"/>
<ellipse cx="534.5" cy="220.9" rx="4" ry="2.9" fill="#86f5d2"/>
<ellipse cx="534.5" cy="233.4" rx="4" ry="2.9" fill="#ff4d12"/>
<ellipse cx="534.5" cy="262.1" rx="4" ry="2.9" fill="#ff4d12"/>
<path d="M278.5 226L281 224.0L283.5 226L281 228.0Z" fill="#000"/>
<path d="M166.7 232.5L169.2 230.5L171.7 232.5L169.2 234.5Z" fill="#000"/>
<path d="M186.2 232.5L188.7 230.5L191.2 232.5L188.7 234.5Z" fill="#000"/>
<path d="M190.1 235.2L192.6 233.2L195.1 235.2L192.6 237.2Z" fill="#000"/>
<path d="M190.6 242.4L193.1 240.4L195.6 242.4L193.1 244.4Z" fill="#000"/>
<path d="M252.9 237.6L255.4 235.6L257.9 237.6L255.4 239.6Z" fill="#000"/>
<path d="M190.1 306.4L192.6 304.4L195.1 306.4L192.6 308.4Z" fill="#000"/>
<path d="M177.0 309.3L179.5 307.3L182.0 309.3L179.5 311.3Z" fill="#000"/>
<path d="M186.2 339.3L188.7 337.3L191.2 339.3L188.7 341.3Z" fill="#000"/>
<path d="M315.9 236.9L318.4 234.9L320.9 236.9L318.4 238.9Z" fill="#000"/>
<path d="M374.6 242.4L377.1 240.4L379.6 242.4L377.1 244.4Z" fill="#000"/>
<path d="M390.0 230.1L392.5 228.1L395.0 230.1L392.5 232.1Z" fill="#000"/>
<path d="M421.8 234.7L424.3 232.7L426.8 234.7L424.3 236.7Z" fill="#000"/>
<path d="M455.2 295.9L457.7 293.9L460.2 295.9L457.7 297.9Z" fill="#000"/>
<path d="M532.0 230.4L534.5 228.4L537.0 230.4L534.5 232.4Z" fill="#000"/>
<rect x="584.3" y="170.9" width="14.4" height="442.4" stroke="#b8b8b8" stroke-width="0.9" fill="none"/>
<rect x="606.3" y="170.9" width="78.3" height="97.7" stroke="#555" stroke-width="0.8" fill="none"/>
<text x="607" y="180.5" fill="#000" style="font-size:11.8px;"><tspan font-style="italic">Evf2</tspan>(+) reg</text>
<text x="607" y="194.3" fill="#000" style="font-size:11.8px;">RNPs</text>
<text x="607" y="208.3" fill="#c85ccc" style="font-size:11.8px;">Smarcc2</text>
<text x="607" y="222.3" fill="#3c72c4" style="font-size:11.8px;">Smarca4</text>
<text x="607" y="236.7" fill="#119011" style="font-size:11.8px;">Dlx</text>
<text x="607" y="250.5" fill="#e42232" style="font-size:11.8px;">Sox2</text>
<text x="607" y="265" fill="#a2f2d8" style="font-size:11.8px;">Nono</text>
<text x="623.4" y="362" fill="#000" style="font-size:10.8px;">Log<tspan font-size="10" dy="2.6">2</tspan><tspan dy="-2.6">[FC]</tspan></text>
<text x="610.7" y="375.5" fill="#000" style="font-size:8.9px;font-style:italic;">Evf2<tspan font-size="5.8" dy="-2.8">TS/TS</tspan><tspan dy="2.8"> ÷ </tspan>Evf2<tspan font-size="5.8" dy="-2.8">+/+</tspan></text>
<path d="M599.3 384.6L603.1 381.1L606.9 384.6L603.1 388.1Z" fill="#000"/>
<text x="609" y="388" fill="#000" style="font-size:11px;">3 – (-3)</text>
<path d="M650 384.6L653.6 381.4L657.2 384.6L653.6 387.8Z" fill="#e02030"/>
<text x="657.7" y="388" fill="#000" style="font-size:11px;">&lt; -3</text>
<text transform="translate(588.8 343.3) rotate(90)" fill="#000" style="font-size:13.1px;">Gene expression</text>
<text x="64.4" y="373.6" fill="#000" style="font-size:12.6px;" text-anchor="end">Diff.</text>
<text x="64.4" y="389.2" fill="#000" style="font-size:12.6px;" text-anchor="end">scRNAseq</text>
<text x="64.4" y="403.6" fill="#000" style="font-size:12.6px;" text-anchor="end">targets</text>
<path d="M137.3 365.3 L165 362.6" stroke="#333" stroke-width="0.9" fill="none"/>
<path d="M192.8 362.6 L207.4 365.3" stroke="#333" stroke-width="0.9" fill="none"/>
<rect x="137.3" y="365.3" width="78.1" height="57" stroke="#5b9bd0" stroke-width="0.9" fill="none"/>
<text transform="translate(146.5 366.6) rotate(-90)" fill="#666" style="font-size:10.6px;" text-anchor="end">Ccdc132</text>
<text transform="translate(159.8 366.6) rotate(-90)" fill="#e02030" style="font-size:10.6px;" text-anchor="end">Pon2</text>
<path d="M153.70000000000002 394.5L156.3 392.42L158.9 394.5L156.3 396.58Z" fill="#e02030"/>
<text transform="translate(172 366.6) rotate(-90)" fill="#666" style="font-size:10.6px;" text-anchor="end">Dlx6</text>
<text transform="translate(185.2 366.6) rotate(-90)" fill="#e02030" style="font-size:10.6px;" text-anchor="end">Tac1<tspan fill="#000">[2]</tspan></text>
<text transform="translate(197.6 366.6) rotate(-90)" fill="#666" style="font-size:10.6px;" text-anchor="end">Asns</text>
<text transform="translate(210 366.6) rotate(-90)" fill="#e02030" style="font-size:10.6px;" text-anchor="end">GM9825<tspan fill="#000">[3]</tspan></text>
<path d="M204.8 421.8L207.4 419.72L210.0 421.8L207.4 423.88Z" fill="#e02030"/>
<text transform="translate(238.6 366.6) rotate(-90)" fill="#e02030" style="font-size:10.6px;" text-anchor="end">Foxp2</text>
<path d="M231.9 405.2L234.5 403.12L237.1 405.2L234.5 407.28Z" fill="#e02030"/>
<text transform="translate(257.8 366.6) rotate(-90)" fill="#666" style="font-size:10.6px;" text-anchor="end">Gm15594</text>
<text transform="translate(282.7 366.6) rotate(-90)" fill="#666" style="font-size:10.6px;" text-anchor="end">Ptprz1</text>
<text transform="translate(319.5 366.6) rotate(-90)" fill="#666" style="font-size:10.6px;" text-anchor="end">Calu</text>
<text transform="translate(381.3 366.6) rotate(-90)" fill="#666" style="font-size:10.6px;" text-anchor="end">Ndufb2</text>
<text transform="translate(395.2 366.6) rotate(-90)" fill="#666" style="font-size:10.6px;" text-anchor="end">Casp2</text>
<text transform="translate(427 366.6) rotate(-90)" fill="#666" style="font-size:10.6px;" text-anchor="end">Pdia4</text>
<text transform="translate(460.1 366.6) rotate(-90)" fill="#e02030" style="font-size:10.6px;" text-anchor="end">Creb5</text>
<text transform="translate(532.9 366.6) rotate(-90)" fill="#666" style="font-size:10.6px;" text-anchor="end">Etv6</text>
<rect x="59.6" y="418.1" width="31.8" height="188.8" stroke="#b8b8b8" stroke-width="0.9" fill="none"/>
<text transform="translate(69.2 600.5) rotate(-90)" fill="#000" style="font-size:13px;"><tspan font-style="italic">Evf2</tspan> negatively regulated RNP</text>
<text transform="translate(84.2 568) rotate(-90)" fill="#000" style="font-size:13px;">binding sites</text>
<text transform="translate(84 488.8) rotate(-90)" fill="#000" style="font-size:10.3px;">(x10kb)</text>
<text transform="translate(100.7 474.9) rotate(-90)" fill="#000" style="font-size:10.2px;">down.</text>
<text transform="translate(100.5 548) rotate(-90)" fill="#000" style="font-size:10.2px;">up.</text>
<text x="138" y="445.3" fill="#000" style="font-size:13px;" text-anchor="end">4</text>
<line x1="137.5" y1="441.6" x2="146.8" y2="441.6" stroke="#000" stroke-width="1" />
<text x="138" y="482.4" fill="#000" style="font-size:13px;" text-anchor="end">2</text>
<line x1="137.5" y1="479.1" x2="146.8" y2="479.1" stroke="#000" stroke-width="1" />
<text x="138" y="556.3" fill="#000" style="font-size:13px;" text-anchor="end">-2</text>
<line x1="137.5" y1="552.8" x2="146.8" y2="552.8" stroke="#000" stroke-width="1" />
<text x="138" y="593.3" fill="#000" style="font-size:13px;" text-anchor="end">-4</text>
<line x1="137.5" y1="590.5" x2="146.8" y2="590.5" stroke="#000" stroke-width="1" />
<text x="97.8" y="519.3" fill="#000" style="font-size:13px;">gene</text>
<text x="134.3" y="519.3" fill="#000" style="font-size:13px;">0</text>
<line x1="144.4" y1="515.8" x2="553.8" y2="519.3" stroke="#222" stroke-width="1.1" />
<line x1="144" y1="612" x2="541.7" y2="612" stroke="#c4c4c4" stroke-width="1.3" />
<line x1="147.5" y1="611.3" x2="147.5" y2="613" stroke="#666" stroke-width="0.8" />
<line x1="167.5" y1="611.3" x2="167.5" y2="613" stroke="#666" stroke-width="0.8" />
<line x1="170.2" y1="611.3" x2="170.2" y2="613" stroke="#666" stroke-width="0.8" />
<line x1="177.5" y1="611.3" x2="177.5" y2="613" stroke="#666" stroke-width="0.8" />
<line x1="192.3" y1="611.3" x2="192.3" y2="613" stroke="#666" stroke-width="0.8" />
<line x1="198.4" y1="611.3" x2="198.4" y2="613" stroke="#666" stroke-width="0.8" />
<line x1="233.1" y1="611.3" x2="233.1" y2="613" stroke="#666" stroke-width="0.8" />
<line x1="253.4" y1="611.3" x2="253.4" y2="613" stroke="#666" stroke-width="0.8" />
<line x1="278.4" y1="611.3" x2="278.4" y2="613" stroke="#666" stroke-width="0.8" />
<line x1="316" y1="611.3" x2="316" y2="613" stroke="#666" stroke-width="0.8" />
<line x1="374.9" y1="611.3" x2="374.9" y2="613" stroke="#666" stroke-width="0.8" />
<line x1="390.6" y1="611.3" x2="390.6" y2="613" stroke="#666" stroke-width="0.8" />
<line x1="422.2" y1="611.3" x2="422.2" y2="613" stroke="#666" stroke-width="0.8" />
<line x1="455.7" y1="611.3" x2="455.7" y2="613" stroke="#666" stroke-width="0.8" />
<line x1="533.6" y1="611.3" x2="533.6" y2="613" stroke="#666" stroke-width="0.8" />
<text x="554.5" y="427.7" fill="#000" style="font-size:10.5px;">3</text>
<text x="554.5" y="456.2" fill="#000" style="font-size:10.5px;">2</text>
<text x="554.5" y="488" fill="#000" style="font-size:10.5px;">1</text>
<text x="554.5" y="519.8" fill="#000" style="font-size:10.5px;">0</text>
<text x="554.5" y="551.6" fill="#000" style="font-size:10.5px;">-1</text>
<text x="554.5" y="583.4" fill="#000" style="font-size:10.5px;">-2</text>
<text x="554.5" y="609.7" fill="#000" style="font-size:10.5px;">-3</text>
<text transform="translate(572 483.7) rotate(90)" fill="#000" style="font-size:9.2px;">log<tspan font-size="9" dy="2.5">2</tspan><tspan dy="-2.5">[FC]</tspan></text>
<rect x="606" y="417.4" width="78.4" height="97.6" stroke="#555" stroke-width="0.8" fill="none"/>
<text x="607" y="426.6" fill="#000" style="font-size:11.8px;"><tspan font-style="italic">Evf2</tspan>(-) reg</text>
<text x="607" y="440.7" fill="#000" style="font-size:11.8px;">RNPs</text>
<text x="607" y="454.3" fill="#c85ccc" style="font-size:11.8px;">Smarcc2</text>
<text x="607" y="468.4" fill="#3c72c4" style="font-size:11.8px;">Smarca4</text>
<text x="607" y="482.8" fill="#119011" style="font-size:11.8px;">Dlx</text>
<text x="607" y="496.6" fill="#e42232" style="font-size:11.8px;">Sox2</text>
<text x="607" y="510.5" fill="#a2f2d8" style="font-size:11.8px;">Nono</text>
<ellipse cx="194.4" cy="489.1" rx="4" ry="2.9" fill="#86f5d2"/>
<ellipse cx="189.3" cy="510.4" rx="4" ry="2.9" fill="#4472d8"/>
<ellipse cx="170.3" cy="516.5" rx="4" ry="2.9" fill="#b455d8"/>
<ellipse cx="179.9" cy="516.9" rx="4" ry="2.9" fill="#86f5d2"/>
<ellipse cx="194.4" cy="518.2" rx="4" ry="2.9" fill="#b455d8"/>
<ellipse cx="235.8" cy="516.5" rx="4" ry="2.9" fill="#ff4d12"/>
<ellipse cx="256.2" cy="513.9" rx="4" ry="2.9" fill="#4472d8"/>
<ellipse cx="170.3" cy="530.3" rx="4" ry="2.9" fill="#b455d8"/>
<ellipse cx="195.9" cy="556.6" rx="4" ry="2.9" fill="#86f5d2"/>
<ellipse cx="194.4" cy="577.5" rx="4" ry="2.9" fill="#056205"/>
<ellipse cx="170.3" cy="586" rx="4" ry="2.9" fill="#86f5d2"/>
<ellipse cx="319" cy="469.8" rx="4" ry="2.9" fill="#056205"/>
<ellipse cx="378" cy="435.4" rx="4" ry="2.9" fill="#86f5d2"/>
<ellipse cx="378" cy="600.3" rx="4" ry="2.9" fill="#b455d8"/>
<ellipse cx="424.7" cy="516.5" rx="4" ry="2.9" fill="#4472d8"/>
<ellipse cx="424.7" cy="549.8" rx="4" ry="2.9" fill="#86f5d2"/>
<ellipse cx="424.7" cy="562.5" rx="4" ry="2.9" fill="#b455d8"/>
<ellipse cx="424.7" cy="605.3" rx="4" ry="2.9" fill="#056205"/>
<ellipse cx="458.4" cy="481.8" rx="4" ry="2.9" fill="#4472d8"/>
<ellipse cx="458.4" cy="516.5" rx="4" ry="2.9" fill="#ff4d12"/>
<ellipse cx="534.5" cy="516.5" rx="4" ry="2.9" fill="#b455d8"/>
<ellipse cx="189.6" cy="516.3" rx="4.5" ry="3.9" fill="#ff4d12"/>
<path d="M167.8 486.9L170.3 484.9L172.8 486.9L170.3 488.9Z" fill="#000"/>
<path d="M186.8 487.3L189.3 485.3L191.8 487.3L189.3 489.3Z" fill="#000"/>
<path d="M190.8 489.7L193.3 487.7L195.8 489.7L193.3 491.7Z" fill="#000"/>
<path d="M191.9 496.8L194.4 494.8L196.9 496.8L194.4 498.8Z" fill="#000"/>
<path d="M253.7 491.9L256.2 489.9L258.7 491.9L256.2 493.9Z" fill="#000"/>
<path d="M279.2 480.3L281.7 478.3L284.2 480.3L281.7 482.3Z" fill="#000"/>
<path d="M190.8 561L193.3 559.0L195.8 561L193.3 563.0Z" fill="#000"/>
<path d="M177.4 564.1L179.9 562.1L182.4 564.1L179.9 566.1Z" fill="#000"/>
<path d="M186.8 593.9L189.3 591.9L191.8 593.9L189.3 595.9Z" fill="#000"/>
<path d="M316.5 491.3L319 489.3L321.5 491.3L319 493.3Z" fill="#000"/>
<path d="M375.5 496.8L378 494.8L380.5 496.8L378 498.8Z" fill="#000"/>
<path d="M390.9 484.7L393.4 482.7L395.9 484.7L393.4 486.7Z" fill="#000"/>
<path d="M422.2 489.1L424.7 487.1L427.2 489.1L424.7 491.1Z" fill="#000"/>
<path d="M455.9 550.5L458.4 548.5L460.9 550.5L458.4 552.5Z" fill="#000"/>
<path d="M532.0 485.1L534.5 483.1L537.0 485.1L534.5 487.1Z" fill="#000"/>
<line x1="120" y1="626.3" x2="158.4" y2="614.6" stroke="#000" stroke-width="1.9" stroke-dasharray="1.9 2"/>
<line x1="216.8" y1="613.5" x2="580" y2="625.4" stroke="#000" stroke-width="1.9" stroke-dasharray="1.9 2"/>
<text x="3" y="632.7" fill="#000" style="font-size:17.5px;">B</text>
<text x="106.6" y="633.6" fill="#000" style="font-size:11px;font-style:italic;">chr6</text>
<text x="111" y="645.6" fill="#000" style="font-size:10.3px;">3.2 Mb</text>
<text x="575" y="632.4" fill="#000" style="font-size:11px;font-style:italic;">chr6</text>
<text x="573.7" y="646" fill="#000" style="font-size:11px;">9.1Mb</text>
<text x="53.1" y="652.3" fill="#000" style="font-size:13px;" text-anchor="end">Diff.</text>
<text x="53.1" y="667.8" fill="#000" style="font-size:13px;" text-anchor="end">4Cseq</text>
<text transform="translate(65.2 684.8) rotate(-90)" fill="#000" style="font-size:10.3px;font-style:italic;">Dlx5/6UCE</text>
<text transform="translate(76.2 672.6) rotate(-90)" fill="#000" style="font-size:8.4px;">(X1Mb)</text>
<text x="90.5" y="658.2" fill="#000" style="font-size:10px;">2.5</text>
<text x="85.5" y="670.7" fill="#000" style="font-size:9px;">gene 0</text>
<text x="92" y="682.4" fill="#000" style="font-size:10px;">-2.5</text>
<line x1="108" y1="654.6" x2="114.5" y2="654.6" stroke="#000" stroke-width="1" />
<line x1="108" y1="681.8" x2="114.5" y2="681.8" stroke="#000" stroke-width="1" />
<line x1="114.5" y1="651" x2="114.5" y2="687" stroke="#000" stroke-width="1" />
<line x1="574.5" y1="648.6" x2="574.5" y2="685" stroke="#000" stroke-width="1" />
<line x1="0" y1="686.2" x2="573.7" y2="685.6" stroke="#222" stroke-width="1.4" />
<line x1="584.3" y1="685.4" x2="658.2" y2="685.4" stroke="#222" stroke-width="1.4" />
<text x="573.5" y="690.6" fill="#000" style="font-size:10.5px;">3</text>
<path d="M158.20 650.80 L158.28 649.25 L158.52 648.29 L158.92 647.47 L159.49 646.73 L160.21 646.04 L161.09 645.40 L162.13 644.80 L163.32 644.23 L164.67 643.68 L166.17 643.16 L167.83 642.65 L169.63 642.17 L171.58 641.70 L173.68 641.26 L175.91 640.83 L178.29 640.41 L180.80 640.02 L183.45 639.63 L186.23 639.26 L189.13 638.91 L192.16 638.57 L195.31 638.25 L198.57 637.94 L201.94 637.64 L205.43 637.36 L209.01 637.09 L212.70 636.83 L216.48 636.59 L220.35 636.37 L224.30 636.15 L228.34 635.95 L232.45 635.77 L236.64 635.59 L240.88 635.44 L245.19 635.29 L249.55 635.16 L253.97 635.04 L258.43 634.94 L262.92 634.85 L267.45 634.77 L272.01 634.71 L276.59 634.66 L281.19 634.63 L285.80 634.61 L290.41 634.60 L296.05 634.62 L301.68 634.68 L307.30 634.78 L312.90 634.91 L318.47 635.09 L324.01 635.30 L329.50 635.55 L334.95 635.83 L340.34 636.15 L345.68 636.50 L350.94 636.87 L356.13 637.28 L361.25 637.71 L366.27 638.17 L371.20 638.65 L376.04 639.15 L380.77 639.67 L385.39 640.20 L389.89 640.74 L394.28 641.29 L398.53 641.85 L402.66 642.42 L406.65 642.98 L410.49 643.55 L414.20 644.11 L417.74 644.66 L421.14 645.20 L424.37 645.73 L427.45 646.25 L430.35 646.75 L433.09 647.23 L435.65 647.69 L438.03 648.12 L440.23 648.53 L442.25 648.90 L444.09 649.25 L445.74 649.57 L447.20 649.85 L448.47 650.10 L449.55 650.31 L450.43 650.49 L451.11 650.62 L451.61 650.72 L451.90 650.78 L452.00 650.80" fill="none" stroke="#c3a6ea" stroke-width="1.2" stroke-linejoin="round" />
<path d="M310.50 651.00 L310.52 650.59 L310.59 650.18 L310.70 649.77 L310.85 649.36 L311.04 648.95 L311.28 648.55 L311.56 648.15 L311.88 647.75 L312.24 647.35 L312.65 646.96 L313.09 646.58 L313.58 646.20 L314.11 645.83 L314.67 645.46 L315.27 645.10 L315.91 644.75 L316.59 644.40 L317.30 644.06 L318.05 643.74 L318.83 643.42 L319.65 643.10 L320.50 642.80 L321.38 642.51 L322.29 642.23 L323.23 641.96 L324.19 641.70 L325.19 641.45 L326.20 641.22 L327.25 640.99 L328.31 640.78 L329.40 640.58 L330.51 640.39 L331.64 640.22 L332.78 640.06 L333.94 639.91 L335.12 639.78 L336.31 639.66 L337.51 639.55 L338.72 639.46 L339.94 639.38 L341.17 639.31 L342.40 639.26 L343.64 639.23 L344.88 639.21 L346.12 639.20 L349.85 639.21 L353.58 639.22 L357.30 639.25 L361.00 639.29 L364.68 639.34 L368.35 639.41 L371.98 639.48 L375.58 639.57 L379.15 639.66 L382.68 639.77 L386.16 639.89 L389.59 640.02 L392.98 640.17 L396.30 640.32 L399.56 640.48 L402.76 640.66 L405.89 640.84 L408.94 641.04 L411.92 641.25 L414.82 641.47 L417.64 641.69 L420.37 641.93 L423.00 642.18 L425.55 642.44 L428.00 642.71 L430.34 643.00 L432.59 643.29 L434.73 643.59 L436.76 643.90 L438.68 644.22 L440.49 644.56 L442.18 644.90 L443.76 645.25 L445.22 645.62 L446.55 646.00 L447.77 646.39 L448.86 646.79 L449.83 647.21 L450.66 647.64 L451.38 648.09 L451.96 648.56 L452.41 649.06 L452.74 649.60 L452.93 650.19 L453.00 651.00" fill="none" stroke="#2f74bf" stroke-width="1.8" stroke-linejoin="round" />
<path d="M448.80 652.50 L448.80 652.03 L448.80 651.56 L448.81 651.09 L448.82 650.62 L448.83 650.16 L448.84 649.69 L448.85 649.23 L448.87 648.78 L448.89 648.33 L448.91 647.88 L448.93 647.44 L448.96 647.01 L448.99 646.58 L449.02 646.16 L449.05 645.75 L449.08 645.35 L449.12 644.95 L449.15 644.56 L449.19 644.19 L449.23 643.82 L449.28 643.47 L449.32 643.12 L449.36 642.79 L449.41 642.47 L449.46 642.16 L449.51 641.86 L449.56 641.58 L449.62 641.31 L449.67 641.05 L449.72 640.81 L449.78 640.58 L449.84 640.37 L449.90 640.17 L449.96 639.98 L450.02 639.81 L450.08 639.66 L450.14 639.52 L450.20 639.40 L450.27 639.30 L450.33 639.21 L450.39 639.13 L450.46 639.07 L450.52 639.03 L450.59 639.01 L450.65 639.00 L450.71 639.01 L450.78 639.03 L450.84 639.07 L450.91 639.13 L450.97 639.21 L451.03 639.30 L451.10 639.40 L451.16 639.52 L451.22 639.66 L451.28 639.81 L451.34 639.98 L451.40 640.17 L451.46 640.37 L451.52 640.58 L451.57 640.81 L451.63 641.05 L451.68 641.31 L451.74 641.58 L451.79 641.86 L451.84 642.16 L451.89 642.47 L451.94 642.79 L451.98 643.12 L452.02 643.47 L452.07 643.82 L452.11 644.19 L452.15 644.56 L452.18 644.95 L452.22 645.35 L452.25 645.75 L452.28 646.16 L452.31 646.58 L452.34 647.01 L452.37 647.44 L452.39 647.88 L452.41 648.33 L452.43 648.78 L452.45 649.23 L452.46 649.69 L452.47 650.16 L452.48 650.62 L452.49 651.09 L452.50 651.56 L452.50 652.03 L452.50 652.50" fill="none" stroke="#2f74bf" stroke-width="1.3" stroke-linejoin="round" />
<path d="M455.00 652.00 L455.02 650.89 L455.07 650.20 L455.16 649.61 L455.29 649.08 L455.45 648.59 L455.65 648.14 L455.88 647.70 L456.14 647.29 L456.44 646.90 L456.78 646.53 L457.15 646.17 L457.55 645.82 L457.99 645.49 L458.46 645.17 L458.95 644.86 L459.49 644.56 L460.05 644.28 L460.64 644.00 L461.26 643.74 L461.91 643.49 L462.58 643.24 L463.29 643.01 L464.01 642.79 L464.77 642.58 L465.54 642.37 L466.35 642.18 L467.17 642.00 L468.01 641.83 L468.88 641.66 L469.76 641.51 L470.66 641.37 L471.58 641.23 L472.51 641.11 L473.46 641.00 L474.42 640.89 L475.40 640.80 L476.38 640.72 L477.38 640.64 L478.38 640.58 L479.39 640.52 L480.41 640.48 L481.43 640.44 L482.46 640.42 L483.49 640.40 L484.52 640.40 L485.78 640.41 L487.04 640.44 L488.29 640.49 L489.54 640.56 L490.79 640.65 L492.02 640.75 L493.25 640.88 L494.46 641.02 L495.67 641.19 L496.86 641.37 L498.04 641.57 L499.20 641.78 L500.34 642.01 L501.46 642.26 L502.56 642.52 L503.64 642.79 L504.70 643.08 L505.73 643.38 L506.73 643.69 L507.71 644.01 L508.66 644.34 L509.58 644.69 L510.47 645.03 L511.33 645.39 L512.16 645.75 L512.95 646.12 L513.71 646.49 L514.43 646.86 L515.12 647.23 L515.77 647.60 L516.38 647.98 L516.95 648.34 L517.48 648.71 L517.97 649.07 L518.42 649.42 L518.83 649.76 L519.20 650.09 L519.53 650.41 L519.81 650.71 L520.05 651.00 L520.25 651.27 L520.40 651.51 L520.51 651.72 L520.58 651.89 L520.60 652.00" fill="none" stroke="#c8dc3a" stroke-width="1.6" stroke-linejoin="round" />
<path d="M455.00 651.00 L455.01 650.14 L455.05 649.60 L455.12 649.15 L455.21 648.74 L455.33 648.36 L455.47 648.00 L455.64 647.67 L455.84 647.35 L456.06 647.04 L456.31 646.75 L456.58 646.47 L456.87 646.21 L457.19 645.95 L457.54 645.70 L457.90 645.46 L458.29 645.23 L458.71 645.01 L459.14 644.80 L459.60 644.59 L460.07 644.39 L460.57 644.21 L461.08 644.03 L461.62 643.85 L462.17 643.69 L462.74 643.53 L463.33 643.38 L463.94 643.24 L464.56 643.11 L465.19 642.98 L465.84 642.86 L466.50 642.75 L467.18 642.65 L467.86 642.55 L468.56 642.46 L469.27 642.38 L469.98 642.31 L470.70 642.25 L471.44 642.19 L472.17 642.14 L472.92 642.10 L473.66 642.06 L474.41 642.03 L475.17 642.02 L475.92 642.00 L476.68 642.00 L477.81 642.01 L478.95 642.03 L480.08 642.07 L481.21 642.12 L482.33 642.19 L483.44 642.27 L484.55 642.37 L485.64 642.48 L486.73 642.61 L487.80 642.75 L488.86 642.90 L489.91 643.07 L490.94 643.25 L491.95 643.44 L492.94 643.64 L493.91 643.85 L494.86 644.08 L495.79 644.31 L496.70 644.55 L497.58 644.80 L498.44 645.06 L499.27 645.33 L500.07 645.60 L500.85 645.87 L501.59 646.15 L502.31 646.44 L502.99 646.72 L503.64 647.01 L504.26 647.30 L504.84 647.59 L505.39 647.88 L505.91 648.16 L506.39 648.45 L506.83 648.72 L507.24 649.00 L507.61 649.26 L507.94 649.52 L508.23 649.77 L508.49 650.00 L508.71 650.22 L508.88 650.43 L509.02 650.62 L509.12 650.78 L509.18 650.92 L509.20 651.00" fill="none" stroke="#c8dc3a" stroke-width="1.5" stroke-linejoin="round" />
<path d="M455.00 651.00 L455.01 650.14 L455.05 649.60 L455.12 649.15 L455.21 648.74 L455.33 648.36 L455.47 648.00 L455.64 647.67 L455.84 647.35 L456.06 647.04 L456.31 646.75 L456.58 646.47 L456.87 646.21 L457.19 645.95 L457.54 645.70 L457.90 645.46 L458.29 645.23 L458.71 645.01 L459.14 644.80 L459.60 644.59 L460.07 644.39 L460.57 644.21 L461.08 644.03 L461.62 643.85 L462.17 643.69 L462.74 643.53 L463.33 643.38 L463.94 643.24 L464.56 643.11 L465.19 642.98 L465.84 642.86 L466.50 642.75 L467.18 642.65 L467.86 642.55 L468.56 642.46 L469.27 642.38 L469.98 642.31 L470.70 642.25 L471.44 642.19 L472.17 642.14 L472.92 642.10 L473.66 642.06 L474.41 642.03 L475.17 642.02 L475.92 642.00 L476.68 642.00 L477.81 642.01 L478.95 642.03 L480.08 642.07 L481.21 642.12 L482.33 642.19 L483.44 642.27 L484.55 642.37 L485.64 642.48 L486.73 642.61 L487.80 642.75 L488.86 642.90 L489.91 643.07 L490.94 643.25 L491.95 643.44 L492.94 643.64 L493.91 643.85 L494.86 644.08 L495.79 644.31 L496.70 644.55 L497.58 644.80 L498.44 645.06 L499.27 645.33 L500.07 645.60 L500.85 645.87 L501.59 646.15 L502.31 646.44 L502.99 646.72 L503.64 647.01 L504.26 647.30 L504.84 647.59 L505.39 647.88 L505.91 648.16 L506.39 648.45 L506.83 648.72 L507.24 649.00 L507.61 649.26 L507.94 649.52 L508.23 649.77 L508.49 650.00 L508.71 650.22 L508.88 650.43 L509.02 650.62 L509.12 650.78 L509.18 650.92 L509.20 651.00" fill="none" stroke="#2f74bf" stroke-width="1.3" stroke-linejoin="round" stroke-dasharray="2.5 2.5"/>
<path d="M455.00 652.20 L455.02 650.25 L455.10 649.25 L455.22 648.43 L455.40 647.73 L455.62 647.09 L455.89 646.51 L456.21 645.97 L456.57 645.46 L456.99 644.98 L457.45 644.53 L457.96 644.10 L458.51 643.69 L459.11 643.30 L459.76 642.92 L460.44 642.57 L461.17 642.23 L461.95 641.90 L462.76 641.59 L463.61 641.29 L464.51 641.00 L465.44 640.73 L466.40 640.47 L467.41 640.22 L468.44 639.98 L469.52 639.76 L470.62 639.54 L471.75 639.34 L472.91 639.15 L474.10 638.97 L475.32 638.81 L476.56 638.65 L477.82 638.51 L479.11 638.37 L480.41 638.25 L481.74 638.13 L483.08 638.03 L484.43 637.94 L485.80 637.86 L487.19 637.79 L488.58 637.73 L489.98 637.69 L491.39 637.65 L492.80 637.62 L494.22 637.61 L495.63 637.60 L497.51 637.61 L499.39 637.65 L501.27 637.72 L503.13 637.82 L504.99 637.94 L506.83 638.08 L508.67 638.25 L510.48 638.45 L512.28 638.67 L514.06 638.92 L515.81 639.18 L517.54 639.47 L519.25 639.79 L520.92 640.12 L522.57 640.47 L524.18 640.84 L525.76 641.22 L527.30 641.62 L528.80 642.04 L530.26 642.46 L531.68 642.90 L533.05 643.35 L534.38 643.81 L535.66 644.27 L536.90 644.74 L538.08 645.22 L539.21 645.69 L540.29 646.17 L541.32 646.64 L542.28 647.11 L543.19 647.57 L544.05 648.03 L544.84 648.48 L545.58 648.92 L546.25 649.34 L546.86 649.75 L547.41 650.14 L547.90 650.51 L548.32 650.86 L548.68 651.18 L548.98 651.47 L549.20 651.73 L549.37 651.94 L549.47 652.11 L549.50 652.20" fill="none" stroke="#c8dc3a" stroke-width="3.4" stroke-linejoin="round" />
<path d="M455.00 652.80 L455.02 650.86 L455.10 649.87 L455.22 649.06 L455.40 648.36 L455.62 647.73 L455.89 647.15 L456.21 646.61 L456.57 646.11 L456.99 645.63 L457.45 645.18 L457.96 644.76 L458.51 644.35 L459.11 643.96 L459.76 643.59 L460.44 643.23 L461.17 642.89 L461.95 642.57 L462.76 642.26 L463.61 641.96 L464.51 641.68 L465.44 641.41 L466.40 641.15 L467.41 640.90 L468.44 640.67 L469.52 640.44 L470.62 640.23 L471.75 640.03 L472.91 639.84 L474.10 639.67 L475.32 639.50 L476.56 639.34 L477.82 639.20 L479.11 639.07 L480.41 638.94 L481.74 638.83 L483.08 638.73 L484.43 638.64 L485.80 638.56 L487.19 638.49 L488.58 638.43 L489.98 638.38 L491.39 638.35 L492.80 638.32 L494.22 638.31 L495.63 638.30 L497.51 638.31 L499.39 638.35 L501.27 638.42 L503.13 638.51 L504.99 638.63 L506.83 638.78 L508.67 638.95 L510.48 639.15 L512.28 639.36 L514.06 639.61 L515.81 639.87 L517.54 640.16 L519.25 640.47 L520.92 640.80 L522.57 641.15 L524.18 641.51 L525.76 641.90 L527.30 642.29 L528.80 642.71 L530.26 643.13 L531.68 643.57 L533.05 644.01 L534.38 644.47 L535.66 644.93 L536.90 645.39 L538.08 645.86 L539.21 646.33 L540.29 646.81 L541.32 647.28 L542.28 647.74 L543.19 648.21 L544.05 648.66 L544.84 649.11 L545.58 649.54 L546.25 649.96 L546.86 650.37 L547.41 650.76 L547.90 651.12 L548.32 651.47 L548.68 651.79 L548.98 652.08 L549.20 652.33 L549.37 652.55 L549.47 652.71 L549.50 652.80" fill="none" stroke="#2f74bf" stroke-width="2.6" stroke-linejoin="round" />
<path d="M455.00 652.80 L455.02 650.86 L455.10 649.87 L455.22 649.06 L455.40 648.36 L455.62 647.73 L455.89 647.15 L456.21 646.61 L456.57 646.11 L456.99 645.63 L457.45 645.18 L457.96 644.76 L458.51 644.35 L459.11 643.96 L459.76 643.59 L460.44 643.23 L461.17 642.89 L461.95 642.57 L462.76 642.26 L463.61 641.96 L464.51 641.68 L465.44 641.41 L466.40 641.15 L467.41 640.90 L468.44 640.67 L469.52 640.44 L470.62 640.23 L471.75 640.03 L472.91 639.84 L474.10 639.67 L475.32 639.50 L476.56 639.34 L477.82 639.20 L479.11 639.07 L480.41 638.94 L481.74 638.83 L483.08 638.73 L484.43 638.64 L485.80 638.56 L487.19 638.49 L488.58 638.43 L489.98 638.38 L491.39 638.35 L492.80 638.32 L494.22 638.31 L495.63 638.30 L497.51 638.31 L499.39 638.35 L501.27 638.42 L503.13 638.51 L504.99 638.63 L506.83 638.78 L508.67 638.95 L510.48 639.15 L512.28 639.36 L514.06 639.61 L515.81 639.87 L517.54 640.16 L519.25 640.47 L520.92 640.80 L522.57 641.15 L524.18 641.51 L525.76 641.90 L527.30 642.29 L528.80 642.71 L530.26 643.13 L531.68 643.57 L533.05 644.01 L534.38 644.47 L535.66 644.93 L536.90 645.39 L538.08 645.86 L539.21 646.33 L540.29 646.81 L541.32 647.28 L542.28 647.74 L543.19 648.21 L544.05 648.66 L544.84 649.11 L545.58 649.54 L546.25 649.96 L546.86 650.37 L547.41 650.76 L547.90 651.12 L548.32 651.47 L548.68 651.79 L548.98 652.08 L549.20 652.33 L549.37 652.55 L549.47 652.71 L549.50 652.80" fill="none" stroke="#e0188a" stroke-width="2.6" stroke-linejoin="round" stroke-dasharray="4.4 5.4" stroke-dashoffset="-3"/>
<text x="422.3" y="635.6" fill="#1ba0d4" style="font-size:9.6px;font-style:italic;">Evf2</text>
<path d="M441.8 630 L446.5 627.3 L453.6 627.3 L452.2 630 L453.6 632.8 L446.5 632.8 Z" fill="#1a66b6"/>
<circle cx="455.2" cy="666.4" r="4.8" fill="#f21818"/>
<circle cx="513" cy="667.7" r="4.8" fill="#f21818"/>
<circle cx="551.5" cy="667.7" r="4.8" fill="#f21818"/>
<circle cx="310.6" cy="667.2" r="4.8" fill="#f21818"/>
<circle cx="154.1" cy="667.3" r="4.6" fill="#8c8c8c"/>
<circle cx="456.8" cy="666.8" r="4.6" fill="#8c8c8c"/>
<circle cx="524.2" cy="668.2" r="4.6" fill="#8c8c8c"/>
<line x1="114.5" y1="667.4" x2="662.3" y2="667.4" stroke="#6aabdc" stroke-width="1.1" />
<circle cx="154.1" cy="667.3" r="2.0" fill="#0f1cf0"/>
<circle cx="455.2" cy="665.5" r="2.0" fill="#0f1cf0"/>
<circle cx="513" cy="667.7" r="2.0" fill="#0f1cf0"/>
<circle cx="524.2" cy="668.2" r="2.0" fill="#0f1cf0"/>
<circle cx="551.5" cy="667.7" r="2.0" fill="#0f1cf0"/>
<circle cx="310.6" cy="667.2" r="2.0" fill="#0f1cf0"/>
<circle cx="154.1" cy="669.2" r="1.3" fill="#f5a200"/>
<circle cx="456.5" cy="669.3" r="1.5" fill="#f5a200"/>
<text x="53.1" y="705.9" fill="#000" style="font-size:13px;" text-anchor="end">Diff</text>
<text x="53.1" y="721.8" fill="#000" style="font-size:13px;" text-anchor="end">Cut&amp;</text>
<text x="53.1" y="737" fill="#000" style="font-size:13px;" text-anchor="end">Run</text>
<rect x="57.5" y="687.3" width="33" height="180.4" stroke="#b8b8b8" stroke-width="0.9" fill="none"/>
<text transform="translate(67.8 833.6) rotate(-90)" fill="#000" style="font-size:13px;"><tspan font-style="italic">Evf2</tspan> regulated RNP</text>
<text transform="translate(83.6 833) rotate(-90)" fill="#000" style="font-size:13px;">binding sites</text>
<text transform="translate(83.2 754.5) rotate(-90)" fill="#000" style="font-size:10.1px;">(x10kb)</text>
<text transform="translate(99 735.6) rotate(-90)" fill="#000" style="font-size:10px;">down.</text>
<text transform="translate(99.5 810) rotate(-90)" fill="#000" style="font-size:10px;">up.</text>
<text x="123" y="706.8" fill="#000" style="font-size:13px;" text-anchor="end">4</text>
<line x1="124" y1="701.9" x2="132" y2="701.9" stroke="#000" stroke-width="1" />
<text x="123" y="744.1" fill="#000" style="font-size:13px;" text-anchor="end">2</text>
<line x1="124" y1="740.7" x2="132" y2="740.7" stroke="#000" stroke-width="1" />
<text x="123" y="819.2" fill="#000" style="font-size:13px;" text-anchor="end">-2</text>
<line x1="124" y1="815.8" x2="132" y2="815.8" stroke="#000" stroke-width="1" />
<text x="123" y="855.7" fill="#000" style="font-size:13px;" text-anchor="end">-4</text>
<line x1="124" y1="852.3" x2="132" y2="852.3" stroke="#000" stroke-width="1" />
<text x="87" y="780.7" fill="#000" style="font-size:13px;">gene</text>
<text x="118.2" y="780.7" fill="#000" style="font-size:13px;">0</text>
<line x1="125.5" y1="776.4" x2="574.2" y2="778.6" stroke="#222" stroke-width="1.1" />
<line x1="585.7" y1="778.9" x2="590" y2="778.9" stroke="#333" stroke-width="1" />
<line x1="602" y1="778.9" x2="605.5" y2="778.9" stroke="#333" stroke-width="1" />
<text x="573.5" y="716.5" fill="#000" style="font-size:10.5px;">2</text>
<text x="573.5" y="748.6" fill="#000" style="font-size:10.5px;">1</text>
<text x="573.5" y="782.2" fill="#000" style="font-size:10.5px;">0</text>
<text x="573.5" y="812.8" fill="#000" style="font-size:10.5px;">-1</text>
<text x="573.5" y="843.5" fill="#000" style="font-size:10.5px;">-2</text>
<text x="573.5" y="872.7" fill="#000" style="font-size:10.5px;">-3</text>
<rect x="588.5" y="687.1" width="15.2" height="182.5" stroke="#b8b8b8" stroke-width="0.9" fill="none"/>
<text transform="translate(591.8 707) rotate(90)" fill="#000" style="font-size:13.1px;">Gene expression <tspan font-size="9.5">(log<tspan font-size="7.5" dy="2">2</tspan><tspan dy="-2">[FC])</tspan></tspan></text>
<circle cx="611.2" cy="691" r="5.5" fill="none" stroke="#e8202a" stroke-width="1"/>
<line x1="619.8" y1="695.5" x2="619.8" y2="702" stroke="#000" stroke-width="1.0" />
<path d="M617.3 696.8L619.8 693L622.3 696.8Z" fill="#000"/>
<text x="623.5" y="702.2" fill="#000" style="font-size:11.9px;"><tspan font-style="italic">Evf2</tspan>(-) reg</text>
<rect x="116.8" y="871.2" width="447.7" height="6.6" stroke="#777" stroke-width="0.9" fill="#fff"/>
<line x1="153.9" y1="871.2" x2="153.9" y2="877.8" stroke="#4a90d0" stroke-width="1" />
<line x1="163.5" y1="871.2" x2="163.5" y2="877.8" stroke="#4a90d0" stroke-width="1" />
<line x1="310" y1="871.2" x2="310" y2="877.8" stroke="#4a90d0" stroke-width="1" />
<line x1="313.4" y1="871.2" x2="313.4" y2="877.8" stroke="#4a90d0" stroke-width="1" />
<line x1="449.2" y1="871.2" x2="449.2" y2="877.8" stroke="#4a90d0" stroke-width="1" />
<line x1="452.4" y1="871.2" x2="452.4" y2="877.8" stroke="#4a90d0" stroke-width="1" />
<line x1="514.3" y1="871.2" x2="514.3" y2="877.8" stroke="#4a90d0" stroke-width="1" />
<line x1="524.5" y1="871.2" x2="524.5" y2="877.8" stroke="#4a90d0" stroke-width="1" />
<line x1="551.4" y1="871.2" x2="551.4" y2="877.8" stroke="#4a90d0" stroke-width="1" />
<text x="64" y="878.2" fill="#000" style="font-size:12.6px;" text-anchor="end">Diff.</text>
<text x="64" y="893.2" fill="#000" style="font-size:12.6px;" text-anchor="end">scRNAseq</text>
<text x="64" y="908" fill="#000" style="font-size:12.6px;" text-anchor="end">targets</text>
<text x="132.8" y="887.9" fill="#666" style="font-size:11px;">Ccdc132</text>
<text x="293.7" y="888" fill="#e02030" style="font-size:11px;">Pon2</text>
<text x="418" y="887.3" fill="#e02030" style="font-size:11px;font-style:italic;font-weight:bold;">Evf2</text>
<text x="443.9" y="887.3" fill="#666" style="font-size:11px;">Dlx6</text>
<text x="485.7" y="887.3" fill="#e02030" style="font-size:10.7px;">Tac1<tspan fill="#222">[2]</tspan></text>
<text x="523.9" y="887.3" fill="#666" style="font-size:10.8px;">Asns</text>
<text x="554.5" y="887.8" fill="#e02030" style="font-size:10.6px;">GM9825<tspan fill="#222">[3]</tspan></text>
<circle cx="154.2" cy="698.4" r="2.95" fill="#20a0a4"/>
<circle cx="154.2" cy="776.9" r="2.95" fill="#b455d8"/>
<circle cx="154.2" cy="776.9" r="5.9" fill="none" stroke="#e8202a" stroke-width="1"/>
<circle cx="154.2" cy="790.4" r="2.95" fill="#b455d8"/>
<circle cx="154.2" cy="790.4" r="5.9" fill="none" stroke="#e8202a" stroke-width="1"/>
<circle cx="154.2" cy="846.4" r="2.95" fill="#86f5d2"/>
<circle cx="154.2" cy="846.4" r="5.9" fill="none" stroke="#e8202a" stroke-width="1"/>
<circle cx="310.8" cy="777.2" r="2.95" fill="#86f5d2"/>
<circle cx="457.4" cy="775.9" r="2.95" fill="#ff4d12"/>
<circle cx="457.7" cy="779.5" r="2.95" fill="#ff4d12"/>
<circle cx="456.7" cy="770.3" r="2.95" fill="#056205"/>
<circle cx="452.4" cy="776.2" r="2.95" fill="#056205"/>
<circle cx="452.4" cy="784.1" r="2.95" fill="#b455d8"/>
<circle cx="452.8" cy="788.7" r="2.95" fill="#20a0a4"/>
<circle cx="452.4" cy="822.2" r="2.95" fill="#ff4d12"/>
<circle cx="456.8" cy="862.5" r="2.95" fill="#b455d8"/>
<circle cx="456.8" cy="866.9" r="2.95" fill="#20a0a4"/>
<circle cx="517.8" cy="705.4" r="2.95" fill="#ff4d12"/>
<circle cx="528.9" cy="749.2" r="2.95" fill="#86f5d2"/>
<circle cx="528.9" cy="749.2" r="5.9" fill="none" stroke="#e8202a" stroke-width="1"/>
<circle cx="517.8" cy="778.4" r="2.95" fill="#b455d8"/>
<circle cx="517.8" cy="778.4" r="5.9" fill="none" stroke="#e8202a" stroke-width="1"/>
<circle cx="517.8" cy="809.9" r="2.95" fill="#b455d8"/>
<circle cx="528.3" cy="821" r="2.95" fill="#ff4d12"/>
<circle cx="528.3" cy="837.7" r="2.95" fill="#056205"/>
<circle cx="528.3" cy="837.7" r="5.9" fill="none" stroke="#e8202a" stroke-width="1"/>
<circle cx="517.8" cy="862.5" r="2.95" fill="#ff4d12"/>
<circle cx="528.3" cy="860.4" r="2.95" fill="#20a0a4"/>
<circle cx="555.9" cy="691.1" r="2.95" fill="#ff4d12"/>
<circle cx="555.9" cy="717.4" r="2.95" fill="#b455d8"/>
<circle cx="555.9" cy="775.8" r="2.95" fill="#20a0a4"/>
<circle cx="555.9" cy="817.2" r="2.95" fill="#86f5d2"/>
<circle cx="555.9" cy="817.2" r="5.9" fill="none" stroke="#e8202a" stroke-width="1"/>
<circle cx="458.7" cy="769.9" r="6.1" fill="none" stroke="#e8202a" stroke-width="1"/>
<circle cx="450.5" cy="776.5" r="6" fill="none" stroke="#e8202a" stroke-width="1"/>
<circle cx="460.7" cy="777.2" r="5.9" fill="none" stroke="#e8202a" stroke-width="1"/>
<path d="M151.89999999999998 747.2L154.2 745.36L156.5 747.2L154.2 749.0400000000001Z" fill="#000"/>
<path d="M308.5 824.2L310.8 822.36L313.1 824.2L310.8 826.0400000000001Z" fill="#000"/>
<path d="M454.5 747.6L456.8 745.76L459.1 747.6L456.8 749.44Z" fill="#000"/>
<path d="M450.09999999999997 854.3L452.4 852.4599999999999L454.7 854.3L452.4 856.14Z" fill="#000"/>
<path d="M515.5 750.1L517.8 748.26L520.0999999999999 750.1L517.8 751.94Z" fill="#000"/>
<path d="M526.6 757.4L528.9 755.56L531.1999999999999 757.4L528.9 759.24Z" fill="#000"/>
<path d="M515.5 821.6L517.8 819.76L520.0999999999999 821.6L517.8 823.44Z" fill="#000"/>
<path d="M548.4 866.9L551.4 864.5L554.4 866.9L551.4 869.3Z" fill="#e02030"/>
<line x1="187.3" y1="21" x2="190.4" y2="615.8" stroke="#1ba0d4" stroke-width="1.8" />
<line x1="454.3" y1="630" x2="455.9" y2="872" stroke="#1ba0d4" stroke-width="1.6" />
</svg></body></html>
